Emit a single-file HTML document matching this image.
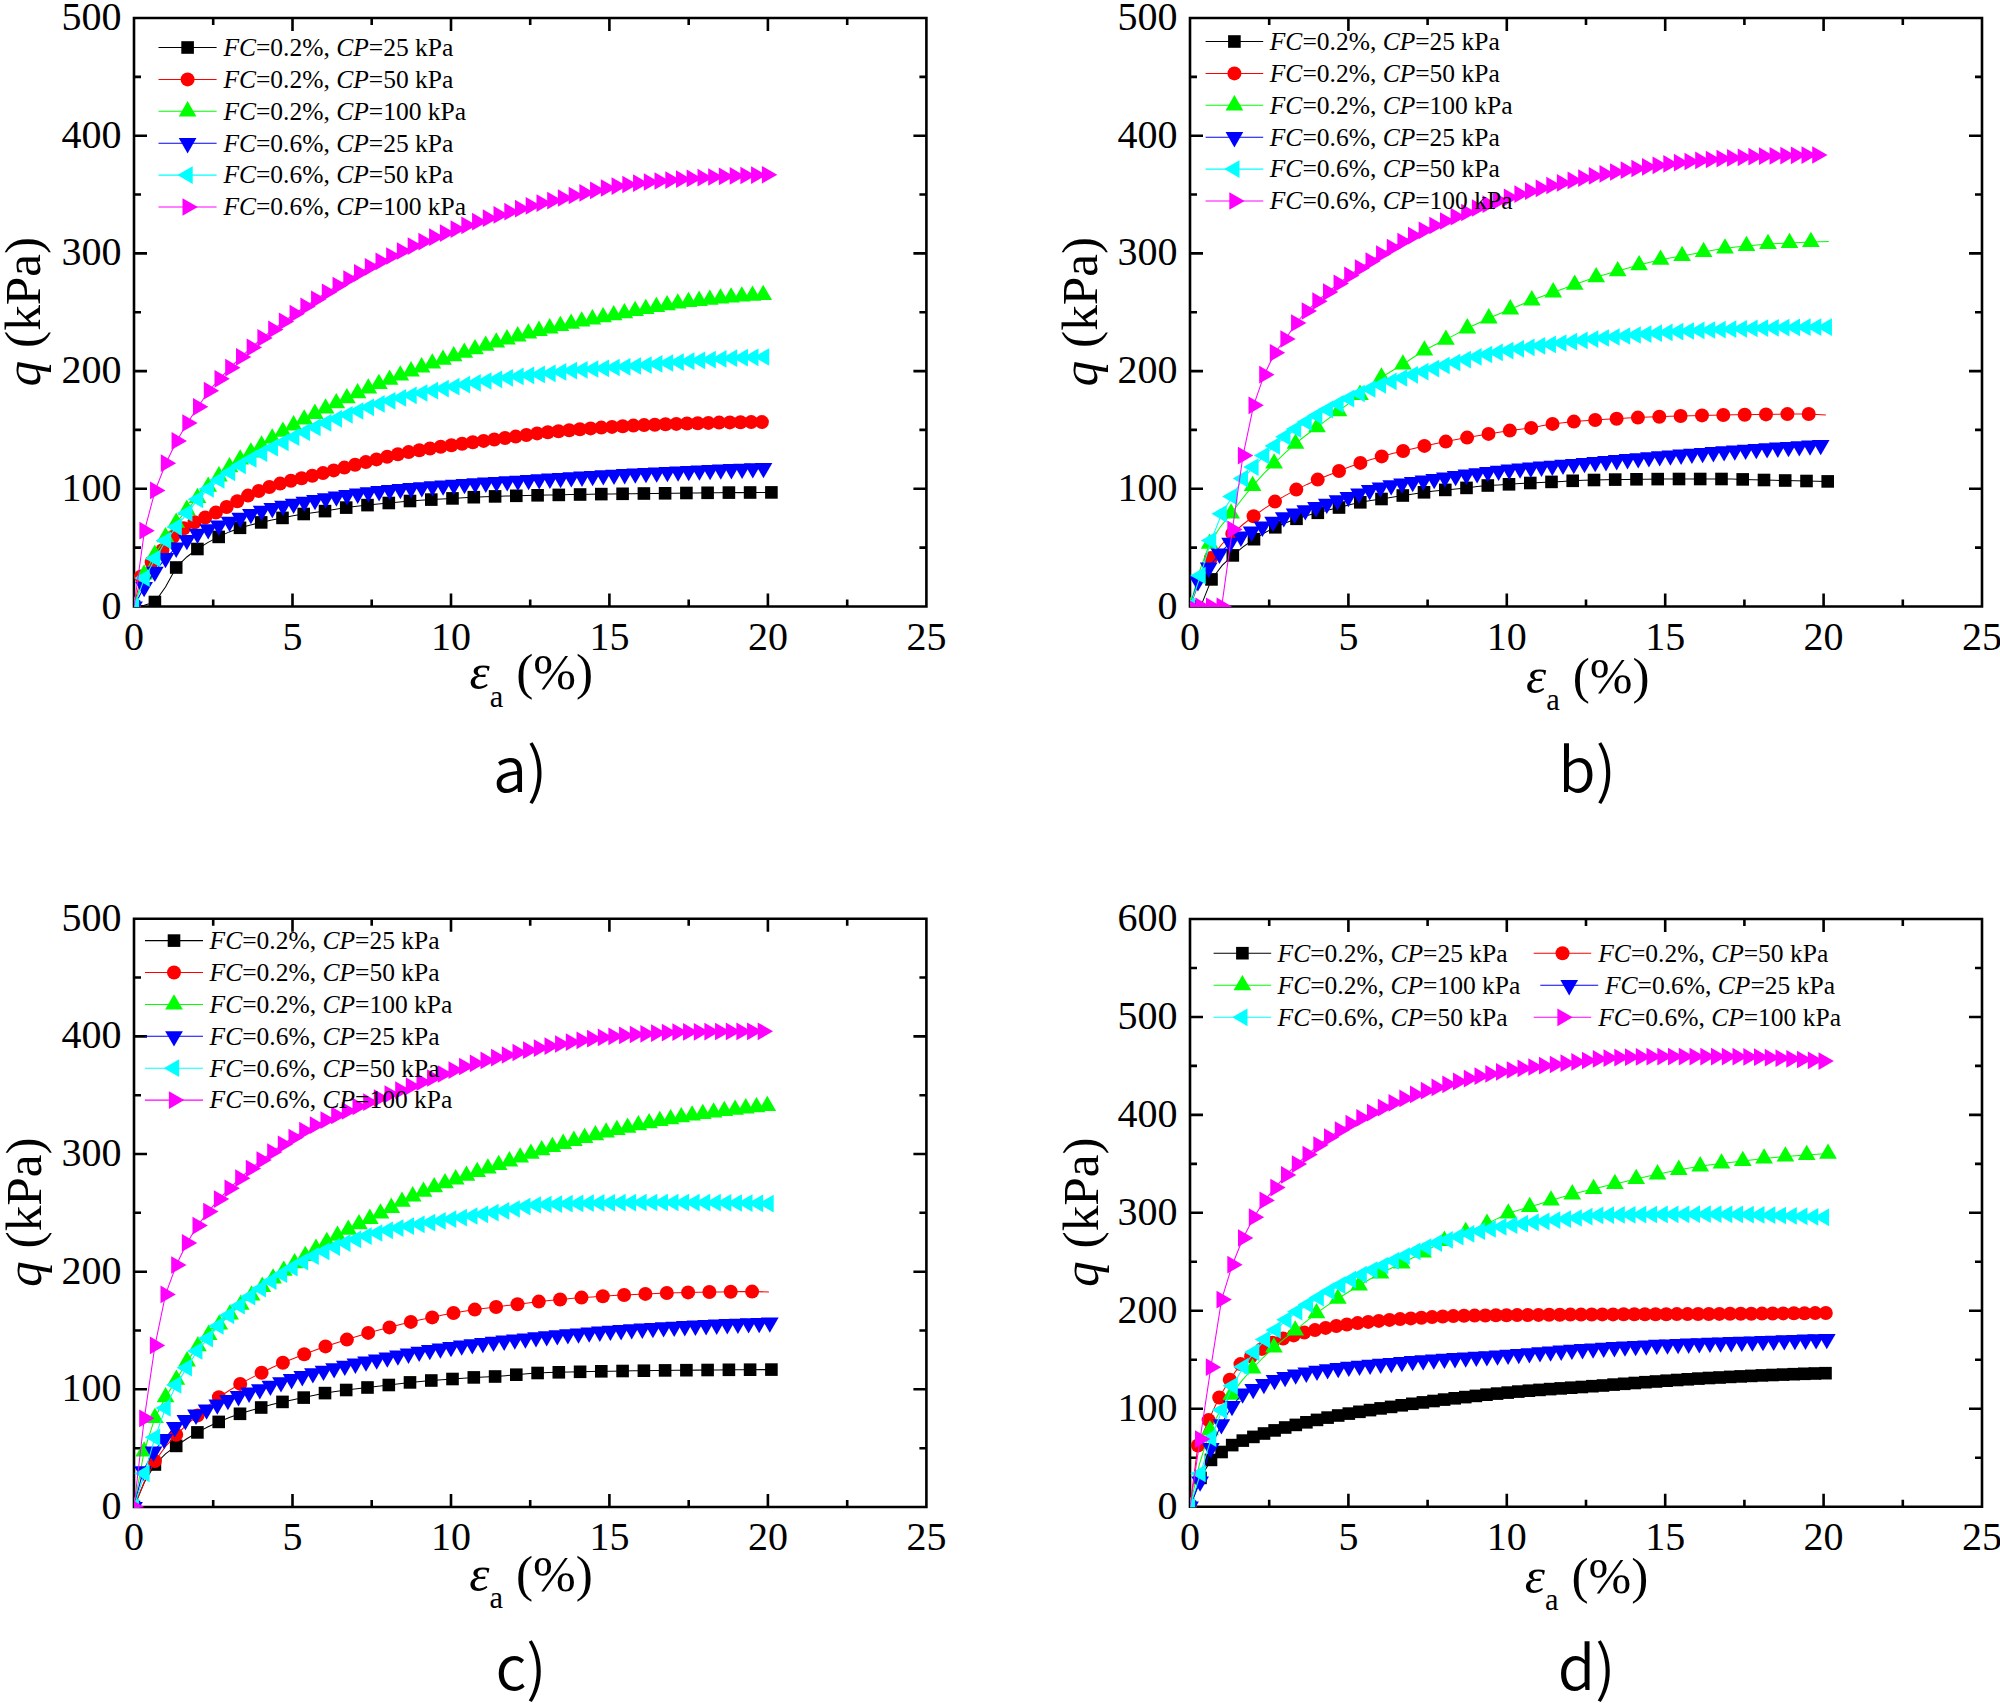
<!DOCTYPE html>
<html><head><meta charset="utf-8"><title>Figure</title>
<style>
html,body{margin:0;padding:0;background:#fff}
svg{display:block}
svg text{font-family:"Liberation Serif",serif;fill:#000}
svg text.cap{font-family:"Noto Sans CJK KR","Liberation Sans",sans-serif;font-weight:350}
</style></head><body>
<svg xmlns="http://www.w3.org/2000/svg" width="2000" height="1703" viewBox="0 0 2000 1703">
<rect width="2000" height="1703" fill="#fff"/>
<defs>
<rect id="sq" x="-6.30" y="-6.30" width="12.6" height="12.6"/>
<circle id="ci" r="7.0"/>
<path id="tu" d="M0 -10.22L-8.85 5.11H8.85Z"/>
<path id="td" d="M0 10.22L-8.85 -5.11H8.85Z"/>
<path id="tl" d="M-10.22 0L5.11 -8.85V8.85Z"/>
<path id="tr" d="M10.22 0L-5.11 -8.85V8.85Z"/>
</defs>
<clipPath id="clipa"><rect x="134.0" y="18.0" width="792.4" height="589.1"/></clipPath>
<path d="M134.0 18.0H926.4V606.5H134.0ZM213.2 606.5v-7M213.2 18.0v7M292.5 606.5v-13M292.5 18.0v13M371.7 606.5v-7M371.7 18.0v7M451 606.5v-13M451 18.0v13M530.2 606.5v-7M530.2 18.0v7M609.4 606.5v-13M609.4 18.0v13M688.7 606.5v-7M688.7 18.0v7M767.9 606.5v-13M767.9 18.0v13M847.2 606.5v-7M847.2 18.0v7M134.0 547.6h7M926.4 547.6h-7M134.0 488.8h13M926.4 488.8h-13M134.0 429.9h7M926.4 429.9h-7M134.0 371.1h13M926.4 371.1h-13M134.0 312.2h7M926.4 312.2h-7M134.0 253.4h13M926.4 253.4h-13M134.0 194.5h7M926.4 194.5h-7M134.0 135.7h13M926.4 135.7h-13M134.0 76.9h7M926.4 76.9h-7" fill="none" stroke="#000" stroke-width="2.6" stroke-linecap="butt" stroke-linejoin="miter"/>
<g clip-path="url(#clipa)">
<path d="M134 606.5L144.3 605.3L154.9 602L165.5 587L176.2 567.5L186.8 557L197.4 549L208.1 542.4L218.7 536.9L229.3 531.9L240 527.8L250.6 524.9L261.2 522.4L271.8 520L282.5 517.9L293.1 515.8L303.7 514L314.4 512.5L325 511.1L335.6 509.3L346.2 507.6L356.9 506.3L367.5 505.1L378.1 504L388.8 503L399.4 502L410 501L420.6 500.3L431.3 499.6L441.9 499L452.5 498.4L463.2 497.8L473.8 497.2L484.4 496.8L495.1 496.4L505.7 496.1L516.3 495.8L526.9 495.6L537.6 495.3L548.2 495.1L558.8 494.9L569.5 494.6L580.1 494.5L590.7 494.3L601.3 494.1L612 494L622.6 493.8L633.2 493.7L643.9 493.5L654.5 493.4L665.1 493.3L675.7 493.2L686.4 493L697 492.9L707.6 492.8L718.3 492.7L728.9 492.6L739.5 492.6L750.1 492.5L760.8 492.4L771.4 492.4" fill="none" stroke="#000" stroke-width="1.05"/>
<g fill="#000"><use href="#sq" x="134" y="606.5"/><use href="#sq" x="154.9" y="602"/><use href="#sq" x="176.2" y="567.5"/><use href="#sq" x="197.4" y="549"/><use href="#sq" x="218.7" y="536.9"/><use href="#sq" x="240" y="527.8"/><use href="#sq" x="261.2" y="522.4"/><use href="#sq" x="282.5" y="517.9"/><use href="#sq" x="303.7" y="514"/><use href="#sq" x="325" y="511.1"/><use href="#sq" x="346.2" y="507.6"/><use href="#sq" x="367.5" y="505.1"/><use href="#sq" x="388.8" y="503"/><use href="#sq" x="410" y="501"/><use href="#sq" x="431.3" y="499.6"/><use href="#sq" x="452.5" y="498.4"/><use href="#sq" x="473.8" y="497.2"/><use href="#sq" x="495.1" y="496.4"/><use href="#sq" x="516.3" y="495.8"/><use href="#sq" x="537.6" y="495.3"/><use href="#sq" x="558.8" y="494.9"/><use href="#sq" x="580.1" y="494.5"/><use href="#sq" x="601.3" y="494.1"/><use href="#sq" x="622.6" y="493.8"/><use href="#sq" x="643.9" y="493.5"/><use href="#sq" x="665.1" y="493.3"/><use href="#sq" x="686.4" y="493"/><use href="#sq" x="707.6" y="492.8"/><use href="#sq" x="728.9" y="492.6"/><use href="#sq" x="750.1" y="492.5"/><use href="#sq" x="771.4" y="492.4"/></g>
<path d="M134 606.5L141 576.5L151.7 562.2L162.4 550.2L173.1 536.8L183.8 528.3L194.5 522.3L205.2 517.5L215.9 512.6L226.6 507L237.3 501.2L248 495.6L258.7 491L269.4 487L280.1 483.6L290.9 480.8L301.6 478.3L312.3 475.7L323 473.1L333.7 470.4L344.4 467.6L355.1 464.8L365.8 462.1L376.5 459.4L387.2 456.8L397.9 454.3L408.6 452.1L419.3 450.2L430 448.5L440.7 446.8L451.4 445.2L462.1 443.7L472.8 442.3L483.6 440.9L494.3 439.5L505 438L515.7 436.6L526.4 435L537.1 433.4L547.8 432.2L558.5 431.2L569.2 430.2L579.9 429.3L590.6 428.4L601.3 427.6L612 426.9L622.7 426.2L633.4 425.6L644.1 425.1L654.8 424.7L665.5 424.3L676.3 423.9L687 423.5L697.7 423.2L708.4 422.9L719.1 422.6L729.8 422.4L740.5 422.2L751.2 422.1L761.9 422.1" fill="none" stroke="#f00" stroke-width="1.05"/>
<g fill="#f00"><use href="#ci" x="134" y="606.5"/><use href="#ci" x="141" y="576.5"/><use href="#ci" x="151.7" y="562.2"/><use href="#ci" x="162.4" y="550.2"/><use href="#ci" x="173.1" y="536.8"/><use href="#ci" x="183.8" y="528.3"/><use href="#ci" x="194.5" y="522.3"/><use href="#ci" x="205.2" y="517.5"/><use href="#ci" x="215.9" y="512.6"/><use href="#ci" x="226.6" y="507"/><use href="#ci" x="237.3" y="501.2"/><use href="#ci" x="248" y="495.6"/><use href="#ci" x="258.7" y="491"/><use href="#ci" x="269.4" y="487"/><use href="#ci" x="280.1" y="483.6"/><use href="#ci" x="290.9" y="480.8"/><use href="#ci" x="301.6" y="478.3"/><use href="#ci" x="312.3" y="475.7"/><use href="#ci" x="323" y="473.1"/><use href="#ci" x="333.7" y="470.4"/><use href="#ci" x="344.4" y="467.6"/><use href="#ci" x="355.1" y="464.8"/><use href="#ci" x="365.8" y="462.1"/><use href="#ci" x="376.5" y="459.4"/><use href="#ci" x="387.2" y="456.8"/><use href="#ci" x="397.9" y="454.3"/><use href="#ci" x="408.6" y="452.1"/><use href="#ci" x="419.3" y="450.2"/><use href="#ci" x="430" y="448.5"/><use href="#ci" x="440.7" y="446.8"/><use href="#ci" x="451.4" y="445.2"/><use href="#ci" x="462.1" y="443.7"/><use href="#ci" x="472.8" y="442.3"/><use href="#ci" x="483.6" y="440.9"/><use href="#ci" x="494.3" y="439.5"/><use href="#ci" x="505" y="438"/><use href="#ci" x="515.7" y="436.6"/><use href="#ci" x="526.4" y="435"/><use href="#ci" x="537.1" y="433.4"/><use href="#ci" x="547.8" y="432.2"/><use href="#ci" x="558.5" y="431.2"/><use href="#ci" x="569.2" y="430.2"/><use href="#ci" x="579.9" y="429.3"/><use href="#ci" x="590.6" y="428.4"/><use href="#ci" x="601.3" y="427.6"/><use href="#ci" x="612" y="426.9"/><use href="#ci" x="622.7" y="426.2"/><use href="#ci" x="633.4" y="425.6"/><use href="#ci" x="644.1" y="425.1"/><use href="#ci" x="654.8" y="424.7"/><use href="#ci" x="665.5" y="424.3"/><use href="#ci" x="676.3" y="423.9"/><use href="#ci" x="687" y="423.5"/><use href="#ci" x="697.7" y="423.2"/><use href="#ci" x="708.4" y="422.9"/><use href="#ci" x="719.1" y="422.6"/><use href="#ci" x="729.8" y="422.4"/><use href="#ci" x="740.5" y="422.2"/><use href="#ci" x="751.2" y="422.1"/><use href="#ci" x="761.9" y="422.1"/></g>
<path d="M134 606.5L144.1 574.5L154.8 554.7L165.5 537.2L176.2 522.7L186.8 509.8L197.5 497.9L208.2 486.7L218.9 476.3L229.5 467.2L240.2 459.4L250.9 452.4L261.5 445.5L272.2 438.5L282.9 431.7L293.6 425.3L304.2 419.5L314.9 413.8L325.6 408.4L336.3 403.1L346.9 398.1L357.6 393.2L368.3 388.5L378.9 384L389.6 379.6L400.3 375.4L411 371.3L421.6 367.3L432.3 363.5L443 359.7L453.7 356.1L464.3 352.6L475 349.1L485.7 345.7L496.3 342.4L507 339.3L517.7 336.3L528.4 333.5L539 330.8L549.7 328.3L560.4 325.9L571.1 323.7L581.7 321.5L592.4 319.3L603.1 317.2L613.7 315.2L624.4 313.1L635.1 311L645.8 308.9L656.4 307L667.1 305.1L677.8 303.5L688.5 302L699.1 300.8L709.8 299.6L720.5 298.4L731.1 297.4L741.8 296.5L752.5 295.7L763.2 295" fill="none" stroke="#0f0" stroke-width="1.05"/>
<g fill="#0f0"><use href="#tu" x="134" y="606.5"/><use href="#tu" x="144.1" y="574.5"/><use href="#tu" x="154.8" y="554.7"/><use href="#tu" x="165.5" y="537.2"/><use href="#tu" x="176.2" y="522.7"/><use href="#tu" x="186.8" y="509.8"/><use href="#tu" x="197.5" y="497.9"/><use href="#tu" x="208.2" y="486.7"/><use href="#tu" x="218.9" y="476.3"/><use href="#tu" x="229.5" y="467.2"/><use href="#tu" x="240.2" y="459.4"/><use href="#tu" x="250.9" y="452.4"/><use href="#tu" x="261.5" y="445.5"/><use href="#tu" x="272.2" y="438.5"/><use href="#tu" x="282.9" y="431.7"/><use href="#tu" x="293.6" y="425.3"/><use href="#tu" x="304.2" y="419.5"/><use href="#tu" x="314.9" y="413.8"/><use href="#tu" x="325.6" y="408.4"/><use href="#tu" x="336.3" y="403.1"/><use href="#tu" x="346.9" y="398.1"/><use href="#tu" x="357.6" y="393.2"/><use href="#tu" x="368.3" y="388.5"/><use href="#tu" x="378.9" y="384"/><use href="#tu" x="389.6" y="379.6"/><use href="#tu" x="400.3" y="375.4"/><use href="#tu" x="411" y="371.3"/><use href="#tu" x="421.6" y="367.3"/><use href="#tu" x="432.3" y="363.5"/><use href="#tu" x="443" y="359.7"/><use href="#tu" x="453.7" y="356.1"/><use href="#tu" x="464.3" y="352.6"/><use href="#tu" x="475" y="349.1"/><use href="#tu" x="485.7" y="345.7"/><use href="#tu" x="496.3" y="342.4"/><use href="#tu" x="507" y="339.3"/><use href="#tu" x="517.7" y="336.3"/><use href="#tu" x="528.4" y="333.5"/><use href="#tu" x="539" y="330.8"/><use href="#tu" x="549.7" y="328.3"/><use href="#tu" x="560.4" y="325.9"/><use href="#tu" x="571.1" y="323.7"/><use href="#tu" x="581.7" y="321.5"/><use href="#tu" x="592.4" y="319.3"/><use href="#tu" x="603.1" y="317.2"/><use href="#tu" x="613.7" y="315.2"/><use href="#tu" x="624.4" y="313.1"/><use href="#tu" x="635.1" y="311"/><use href="#tu" x="645.8" y="308.9"/><use href="#tu" x="656.4" y="307"/><use href="#tu" x="667.1" y="305.1"/><use href="#tu" x="677.8" y="303.5"/><use href="#tu" x="688.5" y="302"/><use href="#tu" x="699.1" y="300.8"/><use href="#tu" x="709.8" y="299.6"/><use href="#tu" x="720.5" y="298.4"/><use href="#tu" x="731.1" y="297.4"/><use href="#tu" x="741.8" y="296.5"/><use href="#tu" x="752.5" y="295.7"/><use href="#tu" x="763.2" y="295"/></g>
<path d="M134 606.5L144.1 587.1L154.8 571.9L165.5 558.1L176.2 547.7L186.9 540L197.5 533.9L208.2 529.4L218.9 525.5L229.6 521.8L240.2 517.8L250.9 514L261.6 510.8L272.3 508.1L283 505.8L293.6 503.8L304.3 501.8L315 500L325.7 498.3L336.4 496.6L347 495.1L357.7 493.7L368.4 492.4L379.1 491.2L389.7 490.1L400.4 489.1L411.1 488.2L421.8 487.3L432.5 486.4L443.1 485.6L453.8 484.8L464.5 484.1L475.2 483.4L485.8 482.7L496.5 482L507.2 481.4L517.9 480.8L528.6 480.1L539.2 479.4L549.9 478.7L560.6 478L571.3 477.3L582 476.7L592.6 476L603.3 475.4L614 474.8L624.7 474.2L635.3 473.6L646 473L656.7 472.5L667.4 472L678.1 471.5L688.7 471L699.4 470.5L710.1 470.1L720.8 469.6L731.4 469.2L742.1 468.8L752.8 468.4L763.5 468" fill="none" stroke="#00f" stroke-width="1.05"/>
<g fill="#00f"><use href="#td" x="134" y="606.5"/><use href="#td" x="144.1" y="587.1"/><use href="#td" x="154.8" y="571.9"/><use href="#td" x="165.5" y="558.1"/><use href="#td" x="176.2" y="547.7"/><use href="#td" x="186.9" y="540"/><use href="#td" x="197.5" y="533.9"/><use href="#td" x="208.2" y="529.4"/><use href="#td" x="218.9" y="525.5"/><use href="#td" x="229.6" y="521.8"/><use href="#td" x="240.2" y="517.8"/><use href="#td" x="250.9" y="514"/><use href="#td" x="261.6" y="510.8"/><use href="#td" x="272.3" y="508.1"/><use href="#td" x="283" y="505.8"/><use href="#td" x="293.6" y="503.8"/><use href="#td" x="304.3" y="501.8"/><use href="#td" x="315" y="500"/><use href="#td" x="325.7" y="498.3"/><use href="#td" x="336.4" y="496.6"/><use href="#td" x="347" y="495.1"/><use href="#td" x="357.7" y="493.7"/><use href="#td" x="368.4" y="492.4"/><use href="#td" x="379.1" y="491.2"/><use href="#td" x="389.7" y="490.1"/><use href="#td" x="400.4" y="489.1"/><use href="#td" x="411.1" y="488.2"/><use href="#td" x="421.8" y="487.3"/><use href="#td" x="432.5" y="486.4"/><use href="#td" x="443.1" y="485.6"/><use href="#td" x="453.8" y="484.8"/><use href="#td" x="464.5" y="484.1"/><use href="#td" x="475.2" y="483.4"/><use href="#td" x="485.8" y="482.7"/><use href="#td" x="496.5" y="482"/><use href="#td" x="507.2" y="481.4"/><use href="#td" x="517.9" y="480.8"/><use href="#td" x="528.6" y="480.1"/><use href="#td" x="539.2" y="479.4"/><use href="#td" x="549.9" y="478.7"/><use href="#td" x="560.6" y="478"/><use href="#td" x="571.3" y="477.3"/><use href="#td" x="582" y="476.7"/><use href="#td" x="592.6" y="476"/><use href="#td" x="603.3" y="475.4"/><use href="#td" x="614" y="474.8"/><use href="#td" x="624.7" y="474.2"/><use href="#td" x="635.3" y="473.6"/><use href="#td" x="646" y="473"/><use href="#td" x="656.7" y="472.5"/><use href="#td" x="667.4" y="472"/><use href="#td" x="678.1" y="471.5"/><use href="#td" x="688.7" y="471"/><use href="#td" x="699.4" y="470.5"/><use href="#td" x="710.1" y="470.1"/><use href="#td" x="720.8" y="469.6"/><use href="#td" x="731.4" y="469.2"/><use href="#td" x="742.1" y="468.8"/><use href="#td" x="752.8" y="468.4"/><use href="#td" x="763.5" y="468"/></g>
<path d="M134 606.5L144.6 578.1L155.3 558.5L166 540.5L176.7 526.9L187.3 513L198 499.3L208.7 488.9L219.4 480L230.1 472.3L240.7 465.3L251.4 459L262.1 453.2L272.8 447.7L283.5 442.4L294.2 437.2L304.8 432.2L315.5 427.4L326.2 422.9L336.9 418.8L347.6 414.8L358.2 411L368.9 407.3L379.6 403.9L390.3 400.8L401 397.9L411.6 395.3L422.3 393L433 390.7L443.7 388.6L454.4 386.7L465 384.7L475.7 382.9L486.4 381L497.1 379.3L507.8 377.8L518.5 376.4L529.1 375.3L539.8 374.4L550.5 373.3L561.2 371.9L571.9 370.6L582.5 369.8L593.2 369L603.9 368.3L614.6 367.5L625.3 366.8L635.9 366L646.6 365.1L657.3 363.9L668 363L678.7 362.1L689.3 361.2L700 360.3L710.7 359.6L721.4 358.9L732.1 358.2L742.8 357.7L753.4 357.3L764.1 357" fill="none" stroke="#0ff" stroke-width="1.05"/>
<g fill="#0ff"><use href="#tl" x="134" y="606.5"/><use href="#tl" x="144.6" y="578.1"/><use href="#tl" x="155.3" y="558.5"/><use href="#tl" x="166" y="540.5"/><use href="#tl" x="176.7" y="526.9"/><use href="#tl" x="187.3" y="513"/><use href="#tl" x="198" y="499.3"/><use href="#tl" x="208.7" y="488.9"/><use href="#tl" x="219.4" y="480"/><use href="#tl" x="230.1" y="472.3"/><use href="#tl" x="240.7" y="465.3"/><use href="#tl" x="251.4" y="459"/><use href="#tl" x="262.1" y="453.2"/><use href="#tl" x="272.8" y="447.7"/><use href="#tl" x="283.5" y="442.4"/><use href="#tl" x="294.2" y="437.2"/><use href="#tl" x="304.8" y="432.2"/><use href="#tl" x="315.5" y="427.4"/><use href="#tl" x="326.2" y="422.9"/><use href="#tl" x="336.9" y="418.8"/><use href="#tl" x="347.6" y="414.8"/><use href="#tl" x="358.2" y="411"/><use href="#tl" x="368.9" y="407.3"/><use href="#tl" x="379.6" y="403.9"/><use href="#tl" x="390.3" y="400.8"/><use href="#tl" x="401" y="397.9"/><use href="#tl" x="411.6" y="395.3"/><use href="#tl" x="422.3" y="393"/><use href="#tl" x="433" y="390.7"/><use href="#tl" x="443.7" y="388.6"/><use href="#tl" x="454.4" y="386.7"/><use href="#tl" x="465" y="384.7"/><use href="#tl" x="475.7" y="382.9"/><use href="#tl" x="486.4" y="381"/><use href="#tl" x="497.1" y="379.3"/><use href="#tl" x="507.8" y="377.8"/><use href="#tl" x="518.5" y="376.4"/><use href="#tl" x="529.1" y="375.3"/><use href="#tl" x="539.8" y="374.4"/><use href="#tl" x="550.5" y="373.3"/><use href="#tl" x="561.2" y="371.9"/><use href="#tl" x="571.9" y="370.6"/><use href="#tl" x="582.5" y="369.8"/><use href="#tl" x="593.2" y="369"/><use href="#tl" x="603.9" y="368.3"/><use href="#tl" x="614.6" y="367.5"/><use href="#tl" x="625.3" y="366.8"/><use href="#tl" x="635.9" y="366"/><use href="#tl" x="646.6" y="365.1"/><use href="#tl" x="657.3" y="363.9"/><use href="#tl" x="668" y="363"/><use href="#tl" x="678.7" y="362.1"/><use href="#tl" x="689.3" y="361.2"/><use href="#tl" x="700" y="360.3"/><use href="#tl" x="710.7" y="359.6"/><use href="#tl" x="721.4" y="358.9"/><use href="#tl" x="732.1" y="358.2"/><use href="#tl" x="742.8" y="357.7"/><use href="#tl" x="753.4" y="357.3"/><use href="#tl" x="764.1" y="357"/></g>
<path d="M134 606.5L144.5 530.7L155.2 490.4L165.9 463.2L176.7 440.9L187.4 423L198.1 406.8L208.9 390.7L219.6 378.8L230.3 367.7L241.1 356.9L251.8 347.4L262.5 337.9L273.3 329.4L284 321.4L294.7 313.7L305.5 306.4L316.2 299.3L326.9 292.3L337.7 285.6L348.4 279L359.1 272.8L369.9 266.8L380.6 261.3L391.3 256L402 251L412.8 246.1L423.5 241.6L434.2 237.2L445 233.1L455.7 229.1L466.4 225.3L477.2 221.7L487.9 218.2L498.6 214.9L509.4 211.7L520.1 208.7L530.8 205.8L541.6 203.1L552.3 200.6L563 198L573.8 195.5L584.5 192.9L595.2 190.3L606 188L616.7 186.1L627.4 184.5L638.2 183.2L648.9 182L659.6 181L670.4 180.1L681.1 179.2L691.8 178.4L702.6 177.7L713.3 177L724 176.4L734.8 175.9L745.5 175.5L756.2 175.1L767 174.8" fill="none" stroke="#f0f" stroke-width="1.05"/>
<g fill="#f0f"><use href="#tr" x="144.5" y="530.7"/><use href="#tr" x="155.2" y="490.4"/><use href="#tr" x="165.9" y="463.2"/><use href="#tr" x="176.7" y="440.9"/><use href="#tr" x="187.4" y="423"/><use href="#tr" x="198.1" y="406.8"/><use href="#tr" x="208.9" y="390.7"/><use href="#tr" x="219.6" y="378.8"/><use href="#tr" x="230.3" y="367.7"/><use href="#tr" x="241.1" y="356.9"/><use href="#tr" x="251.8" y="347.4"/><use href="#tr" x="262.5" y="337.9"/><use href="#tr" x="273.3" y="329.4"/><use href="#tr" x="284" y="321.4"/><use href="#tr" x="294.7" y="313.7"/><use href="#tr" x="305.5" y="306.4"/><use href="#tr" x="316.2" y="299.3"/><use href="#tr" x="326.9" y="292.3"/><use href="#tr" x="337.7" y="285.6"/><use href="#tr" x="348.4" y="279"/><use href="#tr" x="359.1" y="272.8"/><use href="#tr" x="369.9" y="266.8"/><use href="#tr" x="380.6" y="261.3"/><use href="#tr" x="391.3" y="256"/><use href="#tr" x="402" y="251"/><use href="#tr" x="412.8" y="246.1"/><use href="#tr" x="423.5" y="241.6"/><use href="#tr" x="434.2" y="237.2"/><use href="#tr" x="445" y="233.1"/><use href="#tr" x="455.7" y="229.1"/><use href="#tr" x="466.4" y="225.3"/><use href="#tr" x="477.2" y="221.7"/><use href="#tr" x="487.9" y="218.2"/><use href="#tr" x="498.6" y="214.9"/><use href="#tr" x="509.4" y="211.7"/><use href="#tr" x="520.1" y="208.7"/><use href="#tr" x="530.8" y="205.8"/><use href="#tr" x="541.6" y="203.1"/><use href="#tr" x="552.3" y="200.6"/><use href="#tr" x="563" y="198"/><use href="#tr" x="573.8" y="195.5"/><use href="#tr" x="584.5" y="192.9"/><use href="#tr" x="595.2" y="190.3"/><use href="#tr" x="606" y="188"/><use href="#tr" x="616.7" y="186.1"/><use href="#tr" x="627.4" y="184.5"/><use href="#tr" x="638.2" y="183.2"/><use href="#tr" x="648.9" y="182"/><use href="#tr" x="659.6" y="181"/><use href="#tr" x="670.4" y="180.1"/><use href="#tr" x="681.1" y="179.2"/><use href="#tr" x="691.8" y="178.4"/><use href="#tr" x="702.6" y="177.7"/><use href="#tr" x="713.3" y="177"/><use href="#tr" x="724" y="176.4"/><use href="#tr" x="734.8" y="175.9"/><use href="#tr" x="745.5" y="175.5"/><use href="#tr" x="756.2" y="175.1"/><use href="#tr" x="767" y="174.8"/></g>
</g>
<g font-size="40" text-anchor="middle">
<text x="134" y="649.6">0</text>
<text x="292.5" y="649.6">5</text>
<text x="451" y="649.6">10</text>
<text x="609.4" y="649.6">15</text>
<text x="767.9" y="649.6">20</text>
<text x="926.4" y="649.6">25</text>
</g>
<g font-size="40" text-anchor="end">
<text x="121.4" y="618.5">0</text>
<text x="121.4" y="500.8">100</text>
<text x="121.4" y="383.1">200</text>
<text x="121.4" y="265.4">300</text>
<text x="121.4" y="147.7">400</text>
<text x="121.4" y="30">500</text>
</g>
<text x="531.3" y="689.4" font-size="51.3" text-anchor="middle"><tspan font-style="italic">ε</tspan><tspan font-size="30.5" dy="17.2">a</tspan><tspan dy="-17.2"> (%)</tspan></text>
<text transform="translate(39.7 311.6) rotate(-90)" font-size="51.3" text-anchor="middle"><tspan font-style="italic">q</tspan> (kPa)</text>
<g font-size="25.5">
<path d="M158.5 47.5H216.6" stroke="#000" stroke-width="1.05"/><use href="#sq" x="187.6" y="47.5" fill="#000"/>
<text x="223.4" y="55.8"><tspan font-style="italic">FC</tspan>=0.2%, <tspan font-style="italic">CP</tspan>=25 kPa</text>
<path d="M158.5 79.4H216.6" stroke="#f00" stroke-width="1.05"/><use href="#ci" x="187.6" y="79.4" fill="#f00"/>
<text x="223.4" y="87.7"><tspan font-style="italic">FC</tspan>=0.2%, <tspan font-style="italic">CP</tspan>=50 kPa</text>
<path d="M158.5 111.3H216.6" stroke="#0f0" stroke-width="1.05"/><use href="#tu" x="187.6" y="111.3" fill="#0f0"/>
<text x="223.4" y="119.6"><tspan font-style="italic">FC</tspan>=0.2%, <tspan font-style="italic">CP</tspan>=100 kPa</text>
<path d="M158.5 143.2H216.6" stroke="#00f" stroke-width="1.05"/><use href="#td" x="187.6" y="143.2" fill="#00f"/>
<text x="223.4" y="151.5"><tspan font-style="italic">FC</tspan>=0.6%, <tspan font-style="italic">CP</tspan>=25 kPa</text>
<path d="M158.5 175.1H216.6" stroke="#0ff" stroke-width="1.05"/><use href="#tl" x="187.6" y="175.1" fill="#0ff"/>
<text x="223.4" y="183.4"><tspan font-style="italic">FC</tspan>=0.6%, <tspan font-style="italic">CP</tspan>=50 kPa</text>
<path d="M158.5 207H216.6" stroke="#f0f" stroke-width="1.05"/><use href="#tr" x="187.6" y="207" fill="#f0f"/>
<text x="223.4" y="215.3"><tspan font-style="italic">FC</tspan>=0.6%, <tspan font-style="italic">CP</tspan>=100 kPa</text>
</g>
<text x="520.1" y="792.4" font-size="61" text-anchor="middle" class="cap">a)</text>
<clipPath id="clipb"><rect x="1190.0" y="18.0" width="792.0" height="589.1"/></clipPath>
<path d="M1190.0 18.0H1982.0V606.5H1190.0ZM1269.2 606.5v-7M1269.2 18.0v7M1348.4 606.5v-13M1348.4 18.0v13M1427.6 606.5v-7M1427.6 18.0v7M1506.8 606.5v-13M1506.8 18.0v13M1586 606.5v-7M1586 18.0v7M1665.2 606.5v-13M1665.2 18.0v13M1744.4 606.5v-7M1744.4 18.0v7M1823.6 606.5v-13M1823.6 18.0v13M1902.8 606.5v-7M1902.8 18.0v7M1190.0 547.6h7M1982.0 547.6h-7M1190.0 488.8h13M1982.0 488.8h-13M1190.0 429.9h7M1982.0 429.9h-7M1190.0 371.1h13M1982.0 371.1h-13M1190.0 312.2h7M1982.0 312.2h-7M1190.0 253.4h13M1982.0 253.4h-13M1190.0 194.5h7M1982.0 194.5h-7M1190.0 135.7h13M1982.0 135.7h-13M1190.0 76.9h7M1982.0 76.9h-7" fill="none" stroke="#000" stroke-width="2.6" stroke-linecap="butt" stroke-linejoin="miter"/>
<g clip-path="url(#clipb)">
<path d="M1190 606.5L1200.9 606.1L1211.5 579.4L1222.2 565.4L1232.8 555.4L1243.4 546.6L1254 539.2L1264.7 532.7L1275.3 527.3L1285.9 522.7L1296.5 518.8L1307.2 515.6L1317.8 512.8L1328.4 510.1L1339 507.5L1349.7 504.7L1360.3 502.3L1370.9 500.6L1381.5 499L1392.1 497.3L1402.8 495.5L1413.4 493.9L1424 492.3L1434.6 491.1L1445.3 489.9L1455.9 488.9L1466.5 487.9L1477.1 486.6L1487.8 485.5L1498.4 484.9L1509 484.3L1519.6 483.6L1530.3 483L1540.9 482.4L1551.5 481.9L1562.1 481.4L1572.7 480.8L1583.4 480.3L1594 480L1604.6 479.8L1615.2 479.6L1625.9 479.4L1636.5 479.3L1647.1 479.2L1657.7 479.1L1668.4 479L1679 479L1689.6 479L1700.2 479L1710.9 479L1721.5 479L1732.1 479.1L1742.7 479.4L1753.4 479.8L1764 480L1774.6 480.3L1785.2 480.5L1795.8 480.7L1806.5 481L1817.1 481.2L1827.7 481.4" fill="none" stroke="#000" stroke-width="1.05"/>
<g fill="#000"><use href="#sq" x="1190" y="606.5"/><use href="#sq" x="1211.5" y="579.4"/><use href="#sq" x="1232.8" y="555.4"/><use href="#sq" x="1254" y="539.2"/><use href="#sq" x="1275.3" y="527.3"/><use href="#sq" x="1296.5" y="518.8"/><use href="#sq" x="1317.8" y="512.8"/><use href="#sq" x="1339" y="507.5"/><use href="#sq" x="1360.3" y="502.3"/><use href="#sq" x="1381.5" y="499"/><use href="#sq" x="1402.8" y="495.5"/><use href="#sq" x="1424" y="492.3"/><use href="#sq" x="1445.3" y="489.9"/><use href="#sq" x="1466.5" y="487.9"/><use href="#sq" x="1487.8" y="485.5"/><use href="#sq" x="1509" y="484.3"/><use href="#sq" x="1530.3" y="483"/><use href="#sq" x="1551.5" y="481.9"/><use href="#sq" x="1572.7" y="480.8"/><use href="#sq" x="1594" y="480"/><use href="#sq" x="1615.2" y="479.6"/><use href="#sq" x="1636.5" y="479.3"/><use href="#sq" x="1657.7" y="479.1"/><use href="#sq" x="1679" y="479"/><use href="#sq" x="1700.2" y="479"/><use href="#sq" x="1721.5" y="479"/><use href="#sq" x="1742.7" y="479.4"/><use href="#sq" x="1764" y="480"/><use href="#sq" x="1785.2" y="480.5"/><use href="#sq" x="1806.5" y="481"/><use href="#sq" x="1827.7" y="481.4"/></g>
<path d="M1190 606.5L1200.2 579.3L1210.9 558.1L1221.6 544.5L1232.3 533.8L1242.9 524.5L1253.6 516.2L1264.3 508.6L1275 501.6L1285.6 495.4L1296.3 489.6L1307 484.4L1317.7 479.6L1328.3 475.2L1339 471L1349.7 466.8L1360.4 462.9L1371 459.5L1381.7 456.4L1392.4 453.6L1403.1 451L1413.7 448.4L1424.4 445.9L1435.1 443.7L1445.8 441.6L1456.4 439.5L1467.1 437.6L1477.8 435.7L1488.5 433.9L1499.1 432.2L1509.8 430.6L1520.5 429.3L1531.2 427.9L1541.8 425.8L1552.5 423.9L1563.2 422.7L1573.9 421.6L1584.5 420.8L1595.2 420L1605.9 419.3L1616.6 418.7L1627.2 418.1L1637.9 417.6L1648.6 417.1L1659.3 416.7L1669.9 416.3L1680.6 416L1691.3 415.7L1702 415.4L1712.6 415.2L1723.3 415L1734 414.8L1744.7 414.7L1755.3 414.5L1766 414.4L1776.7 414.3L1787.4 414.1L1798 414L1808.7 414L1825.8 415.1" fill="none" stroke="#f00" stroke-width="1.05"/>
<g fill="#f00"><use href="#ci" x="1190" y="606.5"/><use href="#ci" x="1210.9" y="558.1"/><use href="#ci" x="1232.3" y="533.8"/><use href="#ci" x="1253.6" y="516.2"/><use href="#ci" x="1275" y="501.6"/><use href="#ci" x="1296.3" y="489.6"/><use href="#ci" x="1317.7" y="479.6"/><use href="#ci" x="1339" y="471"/><use href="#ci" x="1360.4" y="462.9"/><use href="#ci" x="1381.7" y="456.4"/><use href="#ci" x="1403.1" y="451"/><use href="#ci" x="1424.4" y="445.9"/><use href="#ci" x="1445.8" y="441.6"/><use href="#ci" x="1467.1" y="437.6"/><use href="#ci" x="1488.5" y="433.9"/><use href="#ci" x="1509.8" y="430.6"/><use href="#ci" x="1531.2" y="427.9"/><use href="#ci" x="1552.5" y="423.9"/><use href="#ci" x="1573.9" y="421.6"/><use href="#ci" x="1595.2" y="420"/><use href="#ci" x="1616.6" y="418.7"/><use href="#ci" x="1637.9" y="417.6"/><use href="#ci" x="1659.3" y="416.7"/><use href="#ci" x="1680.6" y="416"/><use href="#ci" x="1702" y="415.4"/><use href="#ci" x="1723.3" y="415"/><use href="#ci" x="1744.7" y="414.7"/><use href="#ci" x="1766" y="414.4"/><use href="#ci" x="1787.4" y="414.1"/><use href="#ci" x="1808.7" y="414"/></g>
<path d="M1190 606.5L1198.9 572.9L1209.6 543.7L1220.4 526.8L1231.1 513.5L1241.9 499.2L1252.6 485.9L1263.3 474.2L1274.1 463.5L1284.8 453.2L1295.5 443.6L1306.3 435L1317 427.1L1327.8 419.1L1338.5 411.1L1349.2 403.1L1360 394.8L1370.7 385.9L1381.4 377.4L1392.2 370.7L1402.9 364.4L1413.6 357.3L1424.4 350.4L1435.1 344.8L1445.9 339.6L1456.6 333.9L1467.3 328.3L1478.1 323.2L1488.8 318.3L1499.5 313.7L1510.3 309.3L1521 304.7L1531.8 300.3L1542.5 296.2L1553.2 292.3L1564 288.4L1574.7 284.6L1585.4 280.8L1596.2 277.1L1606.9 274L1617.7 271.1L1628.4 268L1639.1 265.1L1649.9 262.2L1660.6 259.7L1671.3 257.8L1682.1 256L1692.8 254L1703.6 252L1714.3 250.1L1725 248.4L1735.8 247.1L1746.5 246L1757.2 244.9L1768 244L1778.7 243.5L1789.5 243L1800.2 242.5L1810.9 242L1828.7 241.6" fill="none" stroke="#0f0" stroke-width="1.05"/>
<g fill="#0f0"><use href="#tu" x="1190" y="606.5"/><use href="#tu" x="1209.6" y="543.7"/><use href="#tu" x="1231.1" y="513.5"/><use href="#tu" x="1252.6" y="485.9"/><use href="#tu" x="1274.1" y="463.5"/><use href="#tu" x="1295.5" y="443.6"/><use href="#tu" x="1317" y="427.1"/><use href="#tu" x="1338.5" y="411.1"/><use href="#tu" x="1360" y="394.8"/><use href="#tu" x="1381.4" y="377.4"/><use href="#tu" x="1402.9" y="364.4"/><use href="#tu" x="1424.4" y="350.4"/><use href="#tu" x="1445.9" y="339.6"/><use href="#tu" x="1467.3" y="328.3"/><use href="#tu" x="1488.8" y="318.3"/><use href="#tu" x="1510.3" y="309.3"/><use href="#tu" x="1531.8" y="300.3"/><use href="#tu" x="1553.2" y="292.3"/><use href="#tu" x="1574.7" y="284.6"/><use href="#tu" x="1596.2" y="277.1"/><use href="#tu" x="1617.7" y="271.1"/><use href="#tu" x="1639.1" y="265.1"/><use href="#tu" x="1660.6" y="259.7"/><use href="#tu" x="1682.1" y="256"/><use href="#tu" x="1703.6" y="252"/><use href="#tu" x="1725" y="248.4"/><use href="#tu" x="1746.5" y="246"/><use href="#tu" x="1768" y="244"/><use href="#tu" x="1789.5" y="243"/><use href="#tu" x="1810.9" y="242"/></g>
<path d="M1190 606.5L1197.9 581.3L1208.7 567.7L1219.4 553.7L1230.1 542.9L1240.9 536.7L1251.6 531.7L1262.4 526.7L1273.1 521.8L1283.8 517.4L1294.6 513.7L1305.3 510.4L1316 507.2L1326.8 503.8L1337.5 500.3L1348.3 497L1359 493.5L1369.7 490.2L1380.5 487.5L1391.2 485.4L1402 483.6L1412.7 482L1423.4 480.5L1434.2 479L1444.9 477.5L1455.6 476.1L1466.4 474.7L1477.1 473.3L1487.9 472L1498.6 470.8L1509.3 469.7L1520.1 468.6L1530.8 467.7L1541.5 466.7L1552.3 465.8L1563 464.9L1573.8 464L1584.5 463.1L1595.2 462.1L1606 461.2L1616.7 460.2L1627.5 459.2L1638.2 458.3L1648.9 457.3L1659.7 456.4L1670.4 455.5L1681.1 454.7L1691.9 453.8L1702.6 453L1713.4 452.2L1724.1 451.4L1734.8 450.6L1745.6 449.9L1756.3 449.1L1767.1 448.4L1777.8 447.7L1788.5 447L1799.3 446.3L1810 445.6L1820.7 445" fill="none" stroke="#00f" stroke-width="1.05"/>
<g fill="#00f"><use href="#td" x="1190" y="606.5"/><use href="#td" x="1197.9" y="581.3"/><use href="#td" x="1208.7" y="567.7"/><use href="#td" x="1219.4" y="553.7"/><use href="#td" x="1230.1" y="542.9"/><use href="#td" x="1240.9" y="536.7"/><use href="#td" x="1251.6" y="531.7"/><use href="#td" x="1262.4" y="526.7"/><use href="#td" x="1273.1" y="521.8"/><use href="#td" x="1283.8" y="517.4"/><use href="#td" x="1294.6" y="513.7"/><use href="#td" x="1305.3" y="510.4"/><use href="#td" x="1316" y="507.2"/><use href="#td" x="1326.8" y="503.8"/><use href="#td" x="1337.5" y="500.3"/><use href="#td" x="1348.3" y="497"/><use href="#td" x="1359" y="493.5"/><use href="#td" x="1369.7" y="490.2"/><use href="#td" x="1380.5" y="487.5"/><use href="#td" x="1391.2" y="485.4"/><use href="#td" x="1402" y="483.6"/><use href="#td" x="1412.7" y="482"/><use href="#td" x="1423.4" y="480.5"/><use href="#td" x="1434.2" y="479"/><use href="#td" x="1444.9" y="477.5"/><use href="#td" x="1455.6" y="476.1"/><use href="#td" x="1466.4" y="474.7"/><use href="#td" x="1477.1" y="473.3"/><use href="#td" x="1487.9" y="472"/><use href="#td" x="1498.6" y="470.8"/><use href="#td" x="1509.3" y="469.7"/><use href="#td" x="1520.1" y="468.6"/><use href="#td" x="1530.8" y="467.7"/><use href="#td" x="1541.5" y="466.7"/><use href="#td" x="1552.3" y="465.8"/><use href="#td" x="1563" y="464.9"/><use href="#td" x="1573.8" y="464"/><use href="#td" x="1584.5" y="463.1"/><use href="#td" x="1595.2" y="462.1"/><use href="#td" x="1606" y="461.2"/><use href="#td" x="1616.7" y="460.2"/><use href="#td" x="1627.5" y="459.2"/><use href="#td" x="1638.2" y="458.3"/><use href="#td" x="1648.9" y="457.3"/><use href="#td" x="1659.7" y="456.4"/><use href="#td" x="1670.4" y="455.5"/><use href="#td" x="1681.1" y="454.7"/><use href="#td" x="1691.9" y="453.8"/><use href="#td" x="1702.6" y="453"/><use href="#td" x="1713.4" y="452.2"/><use href="#td" x="1724.1" y="451.4"/><use href="#td" x="1734.8" y="450.6"/><use href="#td" x="1745.6" y="449.9"/><use href="#td" x="1756.3" y="449.1"/><use href="#td" x="1767.1" y="448.4"/><use href="#td" x="1777.8" y="447.7"/><use href="#td" x="1788.5" y="447"/><use href="#td" x="1799.3" y="446.3"/><use href="#td" x="1810" y="445.6"/><use href="#td" x="1820.7" y="445"/></g>
<path d="M1190 606.5L1200.5 575.5L1211.1 540.6L1221.7 513.8L1232.3 496.5L1242.9 478.6L1253.5 467.1L1264.1 455.5L1274.8 445.9L1285.4 436.7L1296 429L1306.6 422.1L1317.2 415.6L1327.8 409.6L1338.5 403.9L1349.1 398.6L1359.7 393.5L1370.3 389L1380.9 385L1391.5 381.4L1402.1 378L1412.8 374.8L1423.4 371.7L1434 368.6L1444.6 365.5L1455.2 362.5L1465.8 359.6L1476.5 356.9L1487.1 354.5L1497.7 352.4L1508.3 350.6L1518.9 348.8L1529.5 347.3L1540.1 345.8L1550.8 344.4L1561.4 343L1572 341.7L1582.6 340.4L1593.2 339.1L1603.8 338L1614.5 337L1625.1 336L1635.7 335L1646.3 334.1L1656.9 333.2L1667.5 332.4L1678.2 331.6L1688.8 331L1699.4 330.4L1710 330L1720.6 329.6L1731.2 329.2L1741.8 328.8L1752.5 328.4L1763.1 328.1L1773.7 327.8L1784.3 327.6L1794.9 327.4L1805.5 327.2L1816.2 327.1L1826.8 327.1" fill="none" stroke="#0ff" stroke-width="1.05"/>
<g fill="#0ff"><use href="#tl" x="1190" y="606.5"/><use href="#tl" x="1200.5" y="575.5"/><use href="#tl" x="1211.1" y="540.6"/><use href="#tl" x="1221.7" y="513.8"/><use href="#tl" x="1232.3" y="496.5"/><use href="#tl" x="1242.9" y="478.6"/><use href="#tl" x="1253.5" y="467.1"/><use href="#tl" x="1264.1" y="455.5"/><use href="#tl" x="1274.8" y="445.9"/><use href="#tl" x="1285.4" y="436.7"/><use href="#tl" x="1296" y="429"/><use href="#tl" x="1306.6" y="422.1"/><use href="#tl" x="1317.2" y="415.6"/><use href="#tl" x="1327.8" y="409.6"/><use href="#tl" x="1338.5" y="403.9"/><use href="#tl" x="1349.1" y="398.6"/><use href="#tl" x="1359.7" y="393.5"/><use href="#tl" x="1370.3" y="389"/><use href="#tl" x="1380.9" y="385"/><use href="#tl" x="1391.5" y="381.4"/><use href="#tl" x="1402.1" y="378"/><use href="#tl" x="1412.8" y="374.8"/><use href="#tl" x="1423.4" y="371.7"/><use href="#tl" x="1434" y="368.6"/><use href="#tl" x="1444.6" y="365.5"/><use href="#tl" x="1455.2" y="362.5"/><use href="#tl" x="1465.8" y="359.6"/><use href="#tl" x="1476.5" y="356.9"/><use href="#tl" x="1487.1" y="354.5"/><use href="#tl" x="1497.7" y="352.4"/><use href="#tl" x="1508.3" y="350.6"/><use href="#tl" x="1518.9" y="348.8"/><use href="#tl" x="1529.5" y="347.3"/><use href="#tl" x="1540.1" y="345.8"/><use href="#tl" x="1550.8" y="344.4"/><use href="#tl" x="1561.4" y="343"/><use href="#tl" x="1572" y="341.7"/><use href="#tl" x="1582.6" y="340.4"/><use href="#tl" x="1593.2" y="339.1"/><use href="#tl" x="1603.8" y="338"/><use href="#tl" x="1614.5" y="337"/><use href="#tl" x="1625.1" y="336"/><use href="#tl" x="1635.7" y="335"/><use href="#tl" x="1646.3" y="334.1"/><use href="#tl" x="1656.9" y="333.2"/><use href="#tl" x="1667.5" y="332.4"/><use href="#tl" x="1678.2" y="331.6"/><use href="#tl" x="1688.8" y="331"/><use href="#tl" x="1699.4" y="330.4"/><use href="#tl" x="1710" y="330"/><use href="#tl" x="1720.6" y="329.6"/><use href="#tl" x="1731.2" y="329.2"/><use href="#tl" x="1741.8" y="328.8"/><use href="#tl" x="1752.5" y="328.4"/><use href="#tl" x="1763.1" y="328.1"/><use href="#tl" x="1773.7" y="327.8"/><use href="#tl" x="1784.3" y="327.6"/><use href="#tl" x="1794.9" y="327.4"/><use href="#tl" x="1805.5" y="327.2"/><use href="#tl" x="1816.2" y="327.1"/><use href="#tl" x="1826.8" y="327.1"/></g>
<path d="M1190 606.5L1200.5 606.4L1211.1 606.4L1221.7 606.4L1232.4 529.4L1243 455.6L1253.6 405.3L1264.3 374.7L1274.9 352.8L1285.5 339L1296.2 323L1306.8 311L1317.4 301.2L1328.1 292L1338.7 283.4L1349.3 275.4L1360 268L1370.6 261.1L1381.2 254L1391.9 247.6L1402.5 241.5L1413.1 235.7L1423.8 230.3L1434.4 225.5L1445.1 221L1455.7 216.7L1466.3 212.5L1477 208L1487.6 204.2L1498.2 200.6L1508.9 197.3L1519.5 194.2L1530.1 191.2L1540.8 188.3L1551.4 185.5L1562 182.9L1572.7 180.4L1583.3 178.1L1593.9 175.9L1604.6 173.9L1615.2 172L1625.8 170.2L1636.5 168.5L1647.1 166.8L1657.7 165.3L1668.4 163.9L1679 162.7L1689.6 161.5L1700.3 160.4L1710.9 159.5L1721.6 158.6L1732.2 157.9L1742.8 157.3L1753.5 156.7L1764.1 156.2L1774.7 155.9L1785.4 155.6L1796 155.3L1806.6 155.1L1817.3 155" fill="none" stroke="#f0f" stroke-width="1.05"/>
<g fill="#f0f"><use href="#tr" x="1190" y="606.5"/><use href="#tr" x="1200.5" y="606.4"/><use href="#tr" x="1211.1" y="606.4"/><use href="#tr" x="1221.7" y="606.4"/><use href="#tr" x="1232.4" y="529.4"/><use href="#tr" x="1243" y="455.6"/><use href="#tr" x="1253.6" y="405.3"/><use href="#tr" x="1264.3" y="374.7"/><use href="#tr" x="1274.9" y="352.8"/><use href="#tr" x="1285.5" y="339"/><use href="#tr" x="1296.2" y="323"/><use href="#tr" x="1306.8" y="311"/><use href="#tr" x="1317.4" y="301.2"/><use href="#tr" x="1328.1" y="292"/><use href="#tr" x="1338.7" y="283.4"/><use href="#tr" x="1349.3" y="275.4"/><use href="#tr" x="1360" y="268"/><use href="#tr" x="1370.6" y="261.1"/><use href="#tr" x="1381.2" y="254"/><use href="#tr" x="1391.9" y="247.6"/><use href="#tr" x="1402.5" y="241.5"/><use href="#tr" x="1413.1" y="235.7"/><use href="#tr" x="1423.8" y="230.3"/><use href="#tr" x="1434.4" y="225.5"/><use href="#tr" x="1445.1" y="221"/><use href="#tr" x="1455.7" y="216.7"/><use href="#tr" x="1466.3" y="212.5"/><use href="#tr" x="1477" y="208"/><use href="#tr" x="1487.6" y="204.2"/><use href="#tr" x="1498.2" y="200.6"/><use href="#tr" x="1508.9" y="197.3"/><use href="#tr" x="1519.5" y="194.2"/><use href="#tr" x="1530.1" y="191.2"/><use href="#tr" x="1540.8" y="188.3"/><use href="#tr" x="1551.4" y="185.5"/><use href="#tr" x="1562" y="182.9"/><use href="#tr" x="1572.7" y="180.4"/><use href="#tr" x="1583.3" y="178.1"/><use href="#tr" x="1593.9" y="175.9"/><use href="#tr" x="1604.6" y="173.9"/><use href="#tr" x="1615.2" y="172"/><use href="#tr" x="1625.8" y="170.2"/><use href="#tr" x="1636.5" y="168.5"/><use href="#tr" x="1647.1" y="166.8"/><use href="#tr" x="1657.7" y="165.3"/><use href="#tr" x="1668.4" y="163.9"/><use href="#tr" x="1679" y="162.7"/><use href="#tr" x="1689.6" y="161.5"/><use href="#tr" x="1700.3" y="160.4"/><use href="#tr" x="1710.9" y="159.5"/><use href="#tr" x="1721.6" y="158.6"/><use href="#tr" x="1732.2" y="157.9"/><use href="#tr" x="1742.8" y="157.3"/><use href="#tr" x="1753.5" y="156.7"/><use href="#tr" x="1764.1" y="156.2"/><use href="#tr" x="1774.7" y="155.9"/><use href="#tr" x="1785.4" y="155.6"/><use href="#tr" x="1796" y="155.3"/><use href="#tr" x="1806.6" y="155.1"/><use href="#tr" x="1817.3" y="155"/></g>
</g>
<g font-size="40" text-anchor="middle">
<text x="1190" y="649.6">0</text>
<text x="1348.4" y="649.6">5</text>
<text x="1506.8" y="649.6">10</text>
<text x="1665.2" y="649.6">15</text>
<text x="1823.6" y="649.6">20</text>
<text x="1982" y="649.6">25</text>
</g>
<g font-size="40" text-anchor="end">
<text x="1177.4" y="618.5">0</text>
<text x="1177.4" y="500.8">100</text>
<text x="1177.4" y="383.1">200</text>
<text x="1177.4" y="265.4">300</text>
<text x="1177.4" y="147.7">400</text>
<text x="1177.4" y="30">500</text>
</g>
<text x="1587.8" y="692.5" font-size="51.3" text-anchor="middle"><tspan font-style="italic">ε</tspan><tspan font-size="30.5" dy="17.2">a</tspan><tspan dy="-17.2"> (%)</tspan></text>
<text transform="translate(1097 311.6) rotate(-90)" font-size="51.3" text-anchor="middle"><tspan font-style="italic">q</tspan> (kPa)</text>
<g font-size="25.5">
<path d="M1205.6 41.5H1263.2" stroke="#000" stroke-width="1.05"/><use href="#sq" x="1234.4" y="41.5" fill="#000"/>
<text x="1269.8" y="49.8"><tspan font-style="italic">FC</tspan>=0.2%, <tspan font-style="italic">CP</tspan>=25 kPa</text>
<path d="M1205.6 73.4H1263.2" stroke="#f00" stroke-width="1.05"/><use href="#ci" x="1234.4" y="73.4" fill="#f00"/>
<text x="1269.8" y="81.7"><tspan font-style="italic">FC</tspan>=0.2%, <tspan font-style="italic">CP</tspan>=50 kPa</text>
<path d="M1205.6 105.3H1263.2" stroke="#0f0" stroke-width="1.05"/><use href="#tu" x="1234.4" y="105.3" fill="#0f0"/>
<text x="1269.8" y="113.6"><tspan font-style="italic">FC</tspan>=0.2%, <tspan font-style="italic">CP</tspan>=100 kPa</text>
<path d="M1205.6 137.2H1263.2" stroke="#00f" stroke-width="1.05"/><use href="#td" x="1234.4" y="137.2" fill="#00f"/>
<text x="1269.8" y="145.5"><tspan font-style="italic">FC</tspan>=0.6%, <tspan font-style="italic">CP</tspan>=25 kPa</text>
<path d="M1205.6 169.1H1263.2" stroke="#0ff" stroke-width="1.05"/><use href="#tl" x="1234.4" y="169.1" fill="#0ff"/>
<text x="1269.8" y="177.4"><tspan font-style="italic">FC</tspan>=0.6%, <tspan font-style="italic">CP</tspan>=50 kPa</text>
<path d="M1205.6 201H1263.2" stroke="#f0f" stroke-width="1.05"/><use href="#tr" x="1234.4" y="201" fill="#f0f"/>
<text x="1269.8" y="209.3"><tspan font-style="italic">FC</tspan>=0.6%, <tspan font-style="italic">CP</tspan>=100 kPa</text>
</g>
<text x="1587" y="792.4" font-size="61" text-anchor="middle" class="cap">b)</text>
<clipPath id="clipc"><rect x="134.0" y="918.7" width="792.4" height="588.9"/></clipPath>
<path d="M134.0 918.7H926.4V1507.0H134.0ZM213.2 1507.0v-7M213.2 918.7v7M292.5 1507.0v-13M292.5 918.7v13M371.7 1507.0v-7M371.7 918.7v7M451 1507.0v-13M451 918.7v13M530.2 1507.0v-7M530.2 918.7v7M609.4 1507.0v-13M609.4 918.7v13M688.7 1507.0v-7M688.7 918.7v7M767.9 1507.0v-13M767.9 918.7v13M847.2 1507.0v-7M847.2 918.7v7M134.0 1448.2h7M926.4 1448.2h-7M134.0 1389.3h13M926.4 1389.3h-13M134.0 1330.5h7M926.4 1330.5h-7M134.0 1271.7h13M926.4 1271.7h-13M134.0 1212.8h7M926.4 1212.8h-7M134.0 1154h13M926.4 1154h-13M134.0 1095.2h7M926.4 1095.2h-7M134.0 1036.4h13M926.4 1036.4h-13M134.0 977.5h7M926.4 977.5h-7" fill="none" stroke="#000" stroke-width="2.6" stroke-linecap="butt" stroke-linejoin="miter"/>
<g clip-path="url(#clipc)">
<path d="M134 1507L144.3 1482.5L154.9 1464.5L165.5 1453.9L176.2 1445.9L186.8 1438.7L197.4 1432.4L208.1 1426.8L218.7 1421.9L229.3 1417.6L240 1413.8L250.6 1410.5L261.2 1407.5L271.8 1404.6L282.5 1401.9L293.1 1399.7L303.7 1397.6L314.4 1395.2L325 1393.1L335.6 1391.4L346.2 1390L356.9 1388.7L367.5 1387.5L378.1 1386.2L388.8 1385L399.4 1383.7L410 1382.4L420.6 1381.4L431.3 1380.5L441.9 1379.7L452.5 1379L463.2 1378.2L473.8 1377.4L484.4 1376.9L495.1 1376.5L505.7 1375.7L516.3 1374.7L526.9 1373.7L537.6 1373L548.2 1372.6L558.8 1372.3L569.5 1372L580.1 1371.8L590.7 1371.5L601.3 1371.3L612 1371.2L622.6 1371L633.2 1370.8L643.9 1370.7L654.5 1370.5L665.1 1370.4L675.7 1370.3L686.4 1370.2L697 1370.1L707.6 1370L718.3 1369.9L728.9 1369.8L739.5 1369.8L750.1 1369.7L760.8 1369.6L771.4 1369.6" fill="none" stroke="#000" stroke-width="1.05"/>
<g fill="#000"><use href="#sq" x="134" y="1507"/><use href="#sq" x="154.9" y="1464.5"/><use href="#sq" x="176.2" y="1445.9"/><use href="#sq" x="197.4" y="1432.4"/><use href="#sq" x="218.7" y="1421.9"/><use href="#sq" x="240" y="1413.8"/><use href="#sq" x="261.2" y="1407.5"/><use href="#sq" x="282.5" y="1401.9"/><use href="#sq" x="303.7" y="1397.6"/><use href="#sq" x="325" y="1393.1"/><use href="#sq" x="346.2" y="1390"/><use href="#sq" x="367.5" y="1387.5"/><use href="#sq" x="388.8" y="1385"/><use href="#sq" x="410" y="1382.4"/><use href="#sq" x="431.3" y="1380.5"/><use href="#sq" x="452.5" y="1379"/><use href="#sq" x="473.8" y="1377.4"/><use href="#sq" x="495.1" y="1376.5"/><use href="#sq" x="516.3" y="1374.7"/><use href="#sq" x="537.6" y="1373"/><use href="#sq" x="558.8" y="1372.3"/><use href="#sq" x="580.1" y="1371.8"/><use href="#sq" x="601.3" y="1371.3"/><use href="#sq" x="622.6" y="1371"/><use href="#sq" x="643.9" y="1370.7"/><use href="#sq" x="665.1" y="1370.4"/><use href="#sq" x="686.4" y="1370.2"/><use href="#sq" x="707.6" y="1370"/><use href="#sq" x="728.9" y="1369.8"/><use href="#sq" x="750.1" y="1369.7"/><use href="#sq" x="771.4" y="1369.6"/></g>
<path d="M134 1507L144.3 1481.7L154.9 1461.1L165.6 1446.5L176.2 1434.8L186.9 1424.6L197.6 1415.4L208.2 1405.9L218.9 1397.2L229.6 1390.2L240.2 1383.9L250.9 1378.1L261.6 1372.7L272.2 1367.6L282.9 1362.8L293.5 1358.4L304.2 1354.3L314.9 1350.3L325.5 1346.4L336.2 1343L346.9 1339.6L357.5 1336.2L368.2 1332.9L378.9 1330.1L389.5 1327.4L400.2 1324.6L410.8 1321.9L421.5 1319.6L432.2 1317.4L442.8 1315.1L453.5 1313L464.2 1311.2L474.8 1309.6L485.5 1308.2L496.1 1307L506.8 1305.6L517.5 1304.2L528.1 1302.9L538.8 1301.6L549.5 1300.5L560.1 1299.5L570.8 1298.5L581.5 1297.6L592.1 1296.9L602.8 1296.2L613.4 1295.6L624.1 1295L634.8 1294.4L645.4 1293.9L656.1 1293.4L666.8 1293L677.4 1292.7L688.1 1292.4L698.8 1292.2L709.4 1292L720.1 1291.9L730.7 1291.7L741.4 1291.6L752.1 1291.6L768.9 1292" fill="none" stroke="#f00" stroke-width="1.05"/>
<g fill="#f00"><use href="#ci" x="134" y="1507"/><use href="#ci" x="154.9" y="1461.1"/><use href="#ci" x="176.2" y="1434.8"/><use href="#ci" x="197.6" y="1415.4"/><use href="#ci" x="218.9" y="1397.2"/><use href="#ci" x="240.2" y="1383.9"/><use href="#ci" x="261.6" y="1372.7"/><use href="#ci" x="282.9" y="1362.8"/><use href="#ci" x="304.2" y="1354.3"/><use href="#ci" x="325.5" y="1346.4"/><use href="#ci" x="346.9" y="1339.6"/><use href="#ci" x="368.2" y="1332.9"/><use href="#ci" x="389.5" y="1327.4"/><use href="#ci" x="410.8" y="1321.9"/><use href="#ci" x="432.2" y="1317.4"/><use href="#ci" x="453.5" y="1313"/><use href="#ci" x="474.8" y="1309.6"/><use href="#ci" x="496.1" y="1307"/><use href="#ci" x="517.5" y="1304.2"/><use href="#ci" x="538.8" y="1301.6"/><use href="#ci" x="560.1" y="1299.5"/><use href="#ci" x="581.5" y="1297.6"/><use href="#ci" x="602.8" y="1296.2"/><use href="#ci" x="624.1" y="1295"/><use href="#ci" x="645.4" y="1293.9"/><use href="#ci" x="666.8" y="1293"/><use href="#ci" x="688.1" y="1292.4"/><use href="#ci" x="709.4" y="1292"/><use href="#ci" x="730.7" y="1291.7"/><use href="#ci" x="752.1" y="1291.6"/></g>
<path d="M134 1507L144.1 1451.4L154.9 1417.9L165.6 1397.1L176.4 1379.7L187.1 1361.3L197.9 1346.2L208.6 1334.8L219.3 1324.4L230.1 1314.3L240.8 1304.7L251.6 1295.5L262.3 1286.8L273.1 1278.4L283.8 1270.6L294.6 1263.2L305.3 1256L316 1248.8L326.8 1242L337.5 1235.6L348.3 1229.7L359 1224.2L369.8 1218.8L380.5 1213.4L391.3 1207.8L402 1201.6L412.7 1196.3L423.5 1191.6L434.2 1187.2L445 1183.1L455.7 1179.3L466.5 1175.6L477.2 1172L487.9 1168.5L498.7 1164.9L509.4 1161.3L520.2 1157.5L530.9 1153.7L541.7 1150.1L552.4 1146.9L563.2 1143.8L573.9 1140.8L584.6 1137.9L595.4 1135.2L606.1 1132.5L616.9 1130L627.6 1127.6L638.4 1125.2L649.1 1123.1L659.8 1121L670.6 1119.1L681.3 1117.2L692.1 1115.5L702.8 1113.9L713.6 1112.4L724.3 1111L735.1 1109.6L745.8 1108.3L756.5 1107.1L767.3 1106" fill="none" stroke="#0f0" stroke-width="1.05"/>
<g fill="#0f0"><use href="#tu" x="134" y="1507"/><use href="#tu" x="144.1" y="1451.4"/><use href="#tu" x="154.9" y="1417.9"/><use href="#tu" x="165.6" y="1397.1"/><use href="#tu" x="176.4" y="1379.7"/><use href="#tu" x="187.1" y="1361.3"/><use href="#tu" x="197.9" y="1346.2"/><use href="#tu" x="208.6" y="1334.8"/><use href="#tu" x="219.3" y="1324.4"/><use href="#tu" x="230.1" y="1314.3"/><use href="#tu" x="240.8" y="1304.7"/><use href="#tu" x="251.6" y="1295.5"/><use href="#tu" x="262.3" y="1286.8"/><use href="#tu" x="273.1" y="1278.4"/><use href="#tu" x="283.8" y="1270.6"/><use href="#tu" x="294.6" y="1263.2"/><use href="#tu" x="305.3" y="1256"/><use href="#tu" x="316" y="1248.8"/><use href="#tu" x="326.8" y="1242"/><use href="#tu" x="337.5" y="1235.6"/><use href="#tu" x="348.3" y="1229.7"/><use href="#tu" x="359" y="1224.2"/><use href="#tu" x="369.8" y="1218.8"/><use href="#tu" x="380.5" y="1213.4"/><use href="#tu" x="391.3" y="1207.8"/><use href="#tu" x="402" y="1201.6"/><use href="#tu" x="412.7" y="1196.3"/><use href="#tu" x="423.5" y="1191.6"/><use href="#tu" x="434.2" y="1187.2"/><use href="#tu" x="445" y="1183.1"/><use href="#tu" x="455.7" y="1179.3"/><use href="#tu" x="466.5" y="1175.6"/><use href="#tu" x="477.2" y="1172"/><use href="#tu" x="487.9" y="1168.5"/><use href="#tu" x="498.7" y="1164.9"/><use href="#tu" x="509.4" y="1161.3"/><use href="#tu" x="520.2" y="1157.5"/><use href="#tu" x="530.9" y="1153.7"/><use href="#tu" x="541.7" y="1150.1"/><use href="#tu" x="552.4" y="1146.9"/><use href="#tu" x="563.2" y="1143.8"/><use href="#tu" x="573.9" y="1140.8"/><use href="#tu" x="584.6" y="1137.9"/><use href="#tu" x="595.4" y="1135.2"/><use href="#tu" x="606.1" y="1132.5"/><use href="#tu" x="616.9" y="1130"/><use href="#tu" x="627.6" y="1127.6"/><use href="#tu" x="638.4" y="1125.2"/><use href="#tu" x="649.1" y="1123.1"/><use href="#tu" x="659.8" y="1121"/><use href="#tu" x="670.6" y="1119.1"/><use href="#tu" x="681.3" y="1117.2"/><use href="#tu" x="692.1" y="1115.5"/><use href="#tu" x="702.8" y="1113.9"/><use href="#tu" x="713.6" y="1112.4"/><use href="#tu" x="724.3" y="1111"/><use href="#tu" x="735.1" y="1109.6"/><use href="#tu" x="745.8" y="1108.3"/><use href="#tu" x="756.5" y="1107.1"/><use href="#tu" x="767.3" y="1106"/></g>
<path d="M134 1507L142.9 1471.3L153.5 1451.7L164.1 1439L174.8 1427.2L185.4 1420L196 1414.7L206.6 1409.6L217.3 1404.6L227.9 1400L238.5 1396.2L249.1 1392.7L259.8 1389.3L270.4 1385.9L281 1382.4L291.6 1379.2L302.3 1376.2L312.9 1373.4L323.5 1370.8L334.1 1368.3L344.8 1365.9L355.4 1363.7L366 1361.5L376.7 1359.5L387.3 1357.5L397.9 1355.5L408.5 1353.7L419.2 1351.8L429.8 1350.1L440.4 1348.5L451 1347L461.7 1345.6L472.3 1344.3L482.9 1343L493.5 1341.8L504.2 1340.7L514.8 1339.6L525.4 1338.5L536 1337.4L546.7 1336.4L557.3 1335.4L567.9 1334.4L578.5 1333.5L589.2 1332.6L599.8 1331.7L610.4 1330.9L621.1 1330.2L631.7 1329.4L642.3 1328.7L652.9 1328L663.6 1327.4L674.2 1326.8L684.8 1326.2L695.4 1325.7L706.1 1325.2L716.7 1324.7L727.3 1324.2L737.9 1323.8L748.6 1323.3L759.2 1323L769.8 1322.6" fill="none" stroke="#00f" stroke-width="1.05"/>
<g fill="#00f"><use href="#td" x="134" y="1507"/><use href="#td" x="142.9" y="1471.3"/><use href="#td" x="153.5" y="1451.7"/><use href="#td" x="164.1" y="1439"/><use href="#td" x="174.8" y="1427.2"/><use href="#td" x="185.4" y="1420"/><use href="#td" x="196" y="1414.7"/><use href="#td" x="206.6" y="1409.6"/><use href="#td" x="217.3" y="1404.6"/><use href="#td" x="227.9" y="1400"/><use href="#td" x="238.5" y="1396.2"/><use href="#td" x="249.1" y="1392.7"/><use href="#td" x="259.8" y="1389.3"/><use href="#td" x="270.4" y="1385.9"/><use href="#td" x="281" y="1382.4"/><use href="#td" x="291.6" y="1379.2"/><use href="#td" x="302.3" y="1376.2"/><use href="#td" x="312.9" y="1373.4"/><use href="#td" x="323.5" y="1370.8"/><use href="#td" x="334.1" y="1368.3"/><use href="#td" x="344.8" y="1365.9"/><use href="#td" x="355.4" y="1363.7"/><use href="#td" x="366" y="1361.5"/><use href="#td" x="376.7" y="1359.5"/><use href="#td" x="387.3" y="1357.5"/><use href="#td" x="397.9" y="1355.5"/><use href="#td" x="408.5" y="1353.7"/><use href="#td" x="419.2" y="1351.8"/><use href="#td" x="429.8" y="1350.1"/><use href="#td" x="440.4" y="1348.5"/><use href="#td" x="451" y="1347"/><use href="#td" x="461.7" y="1345.6"/><use href="#td" x="472.3" y="1344.3"/><use href="#td" x="482.9" y="1343"/><use href="#td" x="493.5" y="1341.8"/><use href="#td" x="504.2" y="1340.7"/><use href="#td" x="514.8" y="1339.6"/><use href="#td" x="525.4" y="1338.5"/><use href="#td" x="536" y="1337.4"/><use href="#td" x="546.7" y="1336.4"/><use href="#td" x="557.3" y="1335.4"/><use href="#td" x="567.9" y="1334.4"/><use href="#td" x="578.5" y="1333.5"/><use href="#td" x="589.2" y="1332.6"/><use href="#td" x="599.8" y="1331.7"/><use href="#td" x="610.4" y="1330.9"/><use href="#td" x="621.1" y="1330.2"/><use href="#td" x="631.7" y="1329.4"/><use href="#td" x="642.3" y="1328.7"/><use href="#td" x="652.9" y="1328"/><use href="#td" x="663.6" y="1327.4"/><use href="#td" x="674.2" y="1326.8"/><use href="#td" x="684.8" y="1326.2"/><use href="#td" x="695.4" y="1325.7"/><use href="#td" x="706.1" y="1325.2"/><use href="#td" x="716.7" y="1324.7"/><use href="#td" x="727.3" y="1324.2"/><use href="#td" x="737.9" y="1323.8"/><use href="#td" x="748.6" y="1323.3"/><use href="#td" x="759.2" y="1323"/><use href="#td" x="769.8" y="1322.6"/></g>
<path d="M134 1507L144.5 1473.5L155 1437.3L165.6 1408L176.2 1384.9L186.8 1367.7L197.3 1351L207.9 1338.6L218.5 1325.9L229.1 1315.3L239.7 1305.7L250.2 1296.7L260.8 1288.6L271.4 1281.1L282 1274.2L292.5 1267.7L303.1 1261.7L313.7 1256.2L324.3 1251.4L334.9 1247.1L345.4 1243.1L356 1239.4L366.6 1236.1L377.2 1233L387.8 1230.3L398.3 1228.1L408.9 1226.2L419.5 1224.3L430.1 1222.6L440.6 1220.9L451.2 1219.2L461.8 1217.6L472.4 1216L483 1214.3L493.5 1212.6L504.1 1210.9L514.7 1209L525.3 1206.6L535.8 1205L546.4 1204.5L557 1204.1L567.6 1203.7L578.2 1203.4L588.7 1203.2L599.3 1202.9L609.9 1202.8L620.5 1202.6L631 1202.6L641.6 1202.5L652.2 1202.5L662.8 1202.5L673.4 1202.5L683.9 1202.5L694.5 1202.6L705.1 1202.6L715.7 1202.7L726.2 1202.8L736.8 1203L747.4 1203.1L758 1203.3L768.6 1203.6" fill="none" stroke="#0ff" stroke-width="1.05"/>
<g fill="#0ff"><use href="#tl" x="134" y="1507"/><use href="#tl" x="144.5" y="1473.5"/><use href="#tl" x="155" y="1437.3"/><use href="#tl" x="165.6" y="1408"/><use href="#tl" x="176.2" y="1384.9"/><use href="#tl" x="186.8" y="1367.7"/><use href="#tl" x="197.3" y="1351"/><use href="#tl" x="207.9" y="1338.6"/><use href="#tl" x="218.5" y="1325.9"/><use href="#tl" x="229.1" y="1315.3"/><use href="#tl" x="239.7" y="1305.7"/><use href="#tl" x="250.2" y="1296.7"/><use href="#tl" x="260.8" y="1288.6"/><use href="#tl" x="271.4" y="1281.1"/><use href="#tl" x="282" y="1274.2"/><use href="#tl" x="292.5" y="1267.7"/><use href="#tl" x="303.1" y="1261.7"/><use href="#tl" x="313.7" y="1256.2"/><use href="#tl" x="324.3" y="1251.4"/><use href="#tl" x="334.9" y="1247.1"/><use href="#tl" x="345.4" y="1243.1"/><use href="#tl" x="356" y="1239.4"/><use href="#tl" x="366.6" y="1236.1"/><use href="#tl" x="377.2" y="1233"/><use href="#tl" x="387.8" y="1230.3"/><use href="#tl" x="398.3" y="1228.1"/><use href="#tl" x="408.9" y="1226.2"/><use href="#tl" x="419.5" y="1224.3"/><use href="#tl" x="430.1" y="1222.6"/><use href="#tl" x="440.6" y="1220.9"/><use href="#tl" x="451.2" y="1219.2"/><use href="#tl" x="461.8" y="1217.6"/><use href="#tl" x="472.4" y="1216"/><use href="#tl" x="483" y="1214.3"/><use href="#tl" x="493.5" y="1212.6"/><use href="#tl" x="504.1" y="1210.9"/><use href="#tl" x="514.7" y="1209"/><use href="#tl" x="525.3" y="1206.6"/><use href="#tl" x="535.8" y="1205"/><use href="#tl" x="546.4" y="1204.5"/><use href="#tl" x="557" y="1204.1"/><use href="#tl" x="567.6" y="1203.7"/><use href="#tl" x="578.2" y="1203.4"/><use href="#tl" x="588.7" y="1203.2"/><use href="#tl" x="599.3" y="1202.9"/><use href="#tl" x="609.9" y="1202.8"/><use href="#tl" x="620.5" y="1202.6"/><use href="#tl" x="631" y="1202.6"/><use href="#tl" x="641.6" y="1202.5"/><use href="#tl" x="652.2" y="1202.5"/><use href="#tl" x="662.8" y="1202.5"/><use href="#tl" x="673.4" y="1202.5"/><use href="#tl" x="683.9" y="1202.5"/><use href="#tl" x="694.5" y="1202.6"/><use href="#tl" x="705.1" y="1202.6"/><use href="#tl" x="715.7" y="1202.7"/><use href="#tl" x="726.2" y="1202.8"/><use href="#tl" x="736.8" y="1203"/><use href="#tl" x="747.4" y="1203.1"/><use href="#tl" x="758" y="1203.3"/><use href="#tl" x="768.6" y="1203.6"/></g>
<path d="M134 1507L144.3 1418.3L155 1345.4L165.6 1294.4L176.3 1265L187 1242.9L197.6 1225.6L208.3 1211.6L219 1199.1L229.6 1188.3L240.3 1178.2L250.9 1168.5L261.6 1160.1L272.3 1152L282.9 1144.3L293.6 1137.5L304.3 1130.7L314.9 1125.2L325.6 1120.1L336.3 1115.4L346.9 1110.9L357.6 1106.5L368.3 1102.2L378.9 1098.1L389.6 1094.1L400.3 1090.1L410.9 1086.2L421.6 1082.1L432.2 1078L442.9 1074L453.6 1070.1L464.2 1066.5L474.9 1063.3L485.6 1060.4L496.2 1057.6L506.9 1055L517.6 1052.5L528.2 1050.2L538.9 1048.1L549.6 1046.1L560.2 1044L570.9 1042.1L581.6 1040.3L592.2 1038.7L602.9 1037.4L613.5 1036.3L624.2 1035.4L634.9 1034.5L645.5 1033.8L656.2 1033.1L666.9 1032.6L677.5 1032.1L688.2 1031.9L698.9 1031.8L709.5 1031.6L720.2 1031.5L730.9 1031.4L741.5 1031.4L752.2 1031.3L762.8 1031.3" fill="none" stroke="#f0f" stroke-width="1.05"/>
<g fill="#f0f"><use href="#tr" x="134" y="1507"/><use href="#tr" x="144.3" y="1418.3"/><use href="#tr" x="155" y="1345.4"/><use href="#tr" x="165.6" y="1294.4"/><use href="#tr" x="176.3" y="1265"/><use href="#tr" x="187" y="1242.9"/><use href="#tr" x="197.6" y="1225.6"/><use href="#tr" x="208.3" y="1211.6"/><use href="#tr" x="219" y="1199.1"/><use href="#tr" x="229.6" y="1188.3"/><use href="#tr" x="240.3" y="1178.2"/><use href="#tr" x="250.9" y="1168.5"/><use href="#tr" x="261.6" y="1160.1"/><use href="#tr" x="272.3" y="1152"/><use href="#tr" x="282.9" y="1144.3"/><use href="#tr" x="293.6" y="1137.5"/><use href="#tr" x="304.3" y="1130.7"/><use href="#tr" x="314.9" y="1125.2"/><use href="#tr" x="325.6" y="1120.1"/><use href="#tr" x="336.3" y="1115.4"/><use href="#tr" x="346.9" y="1110.9"/><use href="#tr" x="357.6" y="1106.5"/><use href="#tr" x="368.3" y="1102.2"/><use href="#tr" x="378.9" y="1098.1"/><use href="#tr" x="389.6" y="1094.1"/><use href="#tr" x="400.3" y="1090.1"/><use href="#tr" x="410.9" y="1086.2"/><use href="#tr" x="421.6" y="1082.1"/><use href="#tr" x="432.2" y="1078"/><use href="#tr" x="442.9" y="1074"/><use href="#tr" x="453.6" y="1070.1"/><use href="#tr" x="464.2" y="1066.5"/><use href="#tr" x="474.9" y="1063.3"/><use href="#tr" x="485.6" y="1060.4"/><use href="#tr" x="496.2" y="1057.6"/><use href="#tr" x="506.9" y="1055"/><use href="#tr" x="517.6" y="1052.5"/><use href="#tr" x="528.2" y="1050.2"/><use href="#tr" x="538.9" y="1048.1"/><use href="#tr" x="549.6" y="1046.1"/><use href="#tr" x="560.2" y="1044"/><use href="#tr" x="570.9" y="1042.1"/><use href="#tr" x="581.6" y="1040.3"/><use href="#tr" x="592.2" y="1038.7"/><use href="#tr" x="602.9" y="1037.4"/><use href="#tr" x="613.5" y="1036.3"/><use href="#tr" x="624.2" y="1035.4"/><use href="#tr" x="634.9" y="1034.5"/><use href="#tr" x="645.5" y="1033.8"/><use href="#tr" x="656.2" y="1033.1"/><use href="#tr" x="666.9" y="1032.6"/><use href="#tr" x="677.5" y="1032.1"/><use href="#tr" x="688.2" y="1031.9"/><use href="#tr" x="698.9" y="1031.8"/><use href="#tr" x="709.5" y="1031.6"/><use href="#tr" x="720.2" y="1031.5"/><use href="#tr" x="730.9" y="1031.4"/><use href="#tr" x="741.5" y="1031.4"/><use href="#tr" x="752.2" y="1031.3"/><use href="#tr" x="762.8" y="1031.3"/></g>
</g>
<g font-size="40" text-anchor="middle">
<text x="134" y="1550.1">0</text>
<text x="292.5" y="1550.1">5</text>
<text x="451" y="1550.1">10</text>
<text x="609.4" y="1550.1">15</text>
<text x="767.9" y="1550.1">20</text>
<text x="926.4" y="1550.1">25</text>
</g>
<g font-size="40" text-anchor="end">
<text x="121.4" y="1519">0</text>
<text x="121.4" y="1401.3">100</text>
<text x="121.4" y="1283.7">200</text>
<text x="121.4" y="1166">300</text>
<text x="121.4" y="1048.4">400</text>
<text x="121.4" y="930.7">500</text>
</g>
<text x="531.1" y="1590.5" font-size="51.3" text-anchor="middle"><tspan font-style="italic">ε</tspan><tspan font-size="30.5" dy="17.2">a</tspan><tspan dy="-17.2"> (%)</tspan></text>
<text transform="translate(41.4 1212.1) rotate(-90)" font-size="51.3" text-anchor="middle"><tspan font-style="italic">q</tspan> (kPa)</text>
<g font-size="25.5">
<path d="M145 940.6H203" stroke="#000" stroke-width="1.05"/><use href="#sq" x="174" y="940.6" fill="#000"/>
<text x="209.6" y="948.9"><tspan font-style="italic">FC</tspan>=0.2%, <tspan font-style="italic">CP</tspan>=25 kPa</text>
<path d="M145 972.5H203" stroke="#f00" stroke-width="1.05"/><use href="#ci" x="174" y="972.5" fill="#f00"/>
<text x="209.6" y="980.8"><tspan font-style="italic">FC</tspan>=0.2%, <tspan font-style="italic">CP</tspan>=50 kPa</text>
<path d="M145 1004.4H203" stroke="#0f0" stroke-width="1.05"/><use href="#tu" x="174" y="1004.4" fill="#0f0"/>
<text x="209.6" y="1012.7"><tspan font-style="italic">FC</tspan>=0.2%, <tspan font-style="italic">CP</tspan>=100 kPa</text>
<path d="M145 1036.3H203" stroke="#00f" stroke-width="1.05"/><use href="#td" x="174" y="1036.3" fill="#00f"/>
<text x="209.6" y="1044.6"><tspan font-style="italic">FC</tspan>=0.6%, <tspan font-style="italic">CP</tspan>=25 kPa</text>
<path d="M145 1068.2H203" stroke="#0ff" stroke-width="1.05"/><use href="#tl" x="174" y="1068.2" fill="#0ff"/>
<text x="209.6" y="1076.5"><tspan font-style="italic">FC</tspan>=0.6%, <tspan font-style="italic">CP</tspan>=50 kPa</text>
<path d="M145 1100.1H203" stroke="#f0f" stroke-width="1.05"/><use href="#tr" x="174" y="1100.1" fill="#f0f"/>
<text x="209.6" y="1108.4"><tspan font-style="italic">FC</tspan>=0.6%, <tspan font-style="italic">CP</tspan>=100 kPa</text>
</g>
<text x="521" y="1690.2" font-size="61" text-anchor="middle" class="cap">c)</text>
<clipPath id="clipd"><rect x="1190.0" y="919.0" width="792.0" height="588.3000000000001"/></clipPath>
<path d="M1190.0 919.0H1982.0V1506.7H1190.0ZM1269.2 1506.7v-7M1269.2 919.0v7M1348.4 1506.7v-13M1348.4 919.0v13M1427.6 1506.7v-7M1427.6 919.0v7M1506.8 1506.7v-13M1506.8 919.0v13M1586 1506.7v-7M1586 919.0v7M1665.2 1506.7v-13M1665.2 919.0v13M1744.4 1506.7v-7M1744.4 919.0v7M1823.6 1506.7v-13M1823.6 919.0v13M1902.8 1506.7v-7M1902.8 919.0v7M1190.0 1457.7h7M1982.0 1457.7h-7M1190.0 1408.8h13M1982.0 1408.8h-13M1190.0 1359.8h7M1982.0 1359.8h-7M1190.0 1310.8h13M1982.0 1310.8h-13M1190.0 1261.8h7M1982.0 1261.8h-7M1190.0 1212.8h13M1982.0 1212.8h-13M1190.0 1163.9h7M1982.0 1163.9h-7M1190.0 1114.9h13M1982.0 1114.9h-13M1190.0 1065.9h7M1982.0 1065.9h-7M1190.0 1017h13M1982.0 1017h-13M1190.0 968h7M1982.0 968h-7" fill="none" stroke="#000" stroke-width="2.6" stroke-linecap="butt" stroke-linejoin="miter"/>
<g clip-path="url(#clipd)">
<path d="M1190 1506.7L1200.5 1477.9L1211 1459.9L1221.6 1452L1232.2 1445.1L1242.8 1440.6L1253.4 1436.9L1264 1433.5L1274.6 1430.4L1285.2 1427.5L1295.8 1424.9L1306.4 1422.3L1317 1419.9L1327.6 1417.6L1338.2 1415.5L1348.8 1413.6L1359.4 1411.8L1370 1410.1L1380.6 1408.4L1391.1 1406.9L1401.7 1405.3L1412.3 1403.8L1422.9 1402.4L1433.5 1401L1444.1 1399.6L1454.7 1398.3L1465.3 1397.1L1475.9 1395.9L1486.5 1394.7L1497.1 1393.6L1507.7 1392.6L1518.3 1391.6L1528.9 1390.7L1539.5 1389.9L1550.1 1389.1L1560.7 1388.4L1571.2 1387.7L1581.8 1387L1592.4 1386.2L1603 1385.5L1613.6 1384.6L1624.2 1383.8L1634.8 1383L1645.4 1382.2L1656 1381.5L1666.6 1380.7L1677.2 1380L1687.8 1379.3L1698.4 1378.6L1709 1378L1719.6 1377.5L1730.2 1376.9L1740.7 1376.4L1751.3 1375.9L1761.9 1375.4L1772.5 1375L1783.1 1374.6L1793.7 1374.2L1804.3 1373.8L1814.9 1373.5L1825.5 1373.2" fill="none" stroke="#000" stroke-width="1.05"/>
<g fill="#000"><use href="#sq" x="1190" y="1506.7"/><use href="#sq" x="1200.5" y="1477.9"/><use href="#sq" x="1211" y="1459.9"/><use href="#sq" x="1221.6" y="1452"/><use href="#sq" x="1232.2" y="1445.1"/><use href="#sq" x="1242.8" y="1440.6"/><use href="#sq" x="1253.4" y="1436.9"/><use href="#sq" x="1264" y="1433.5"/><use href="#sq" x="1274.6" y="1430.4"/><use href="#sq" x="1285.2" y="1427.5"/><use href="#sq" x="1295.8" y="1424.9"/><use href="#sq" x="1306.4" y="1422.3"/><use href="#sq" x="1317" y="1419.9"/><use href="#sq" x="1327.6" y="1417.6"/><use href="#sq" x="1338.2" y="1415.5"/><use href="#sq" x="1348.8" y="1413.6"/><use href="#sq" x="1359.4" y="1411.8"/><use href="#sq" x="1370" y="1410.1"/><use href="#sq" x="1380.6" y="1408.4"/><use href="#sq" x="1391.1" y="1406.9"/><use href="#sq" x="1401.7" y="1405.3"/><use href="#sq" x="1412.3" y="1403.8"/><use href="#sq" x="1422.9" y="1402.4"/><use href="#sq" x="1433.5" y="1401"/><use href="#sq" x="1444.1" y="1399.6"/><use href="#sq" x="1454.7" y="1398.3"/><use href="#sq" x="1465.3" y="1397.1"/><use href="#sq" x="1475.9" y="1395.9"/><use href="#sq" x="1486.5" y="1394.7"/><use href="#sq" x="1497.1" y="1393.6"/><use href="#sq" x="1507.7" y="1392.6"/><use href="#sq" x="1518.3" y="1391.6"/><use href="#sq" x="1528.9" y="1390.7"/><use href="#sq" x="1539.5" y="1389.9"/><use href="#sq" x="1550.1" y="1389.1"/><use href="#sq" x="1560.7" y="1388.4"/><use href="#sq" x="1571.2" y="1387.7"/><use href="#sq" x="1581.8" y="1387"/><use href="#sq" x="1592.4" y="1386.2"/><use href="#sq" x="1603" y="1385.5"/><use href="#sq" x="1613.6" y="1384.6"/><use href="#sq" x="1624.2" y="1383.8"/><use href="#sq" x="1634.8" y="1383"/><use href="#sq" x="1645.4" y="1382.2"/><use href="#sq" x="1656" y="1381.5"/><use href="#sq" x="1666.6" y="1380.7"/><use href="#sq" x="1677.2" y="1380"/><use href="#sq" x="1687.8" y="1379.3"/><use href="#sq" x="1698.4" y="1378.6"/><use href="#sq" x="1709" y="1378"/><use href="#sq" x="1719.6" y="1377.5"/><use href="#sq" x="1730.2" y="1376.9"/><use href="#sq" x="1740.7" y="1376.4"/><use href="#sq" x="1751.3" y="1375.9"/><use href="#sq" x="1761.9" y="1375.4"/><use href="#sq" x="1772.5" y="1375"/><use href="#sq" x="1783.1" y="1374.6"/><use href="#sq" x="1793.7" y="1374.2"/><use href="#sq" x="1804.3" y="1373.8"/><use href="#sq" x="1814.9" y="1373.5"/><use href="#sq" x="1825.5" y="1373.2"/></g>
<path d="M1190 1506.7L1197.9 1445.5L1208.6 1420.1L1219.2 1397.5L1229.8 1379.8L1240.5 1364.1L1251.1 1356.4L1261.8 1348.9L1272.4 1342.8L1283.1 1338.6L1293.7 1335.4L1304.3 1332.6L1315 1330.1L1325.6 1327.9L1336.3 1326L1346.9 1324.5L1357.6 1323.1L1368.2 1321.9L1378.8 1320.9L1389.5 1319.9L1400.1 1319.1L1410.8 1318.4L1421.4 1317.7L1432.1 1317.1L1442.7 1316.5L1453.3 1316.1L1464 1315.8L1474.6 1315.6L1485.3 1315.5L1495.9 1315.3L1506.5 1315.2L1517.2 1315.1L1527.8 1315L1538.5 1314.9L1549.1 1314.8L1559.8 1314.7L1570.4 1314.6L1581 1314.6L1591.7 1314.5L1602.3 1314.4L1613 1314.4L1623.6 1314.3L1634.3 1314.3L1644.9 1314.3L1655.5 1314.2L1666.2 1314.2L1676.8 1314.1L1687.5 1314.1L1698.1 1314L1708.8 1314L1719.4 1313.9L1730 1313.8L1740.7 1313.8L1751.3 1313.7L1762 1313.6L1772.6 1313.5L1783.2 1313.4L1793.9 1313.3L1804.5 1313.2L1815.2 1313.1L1825.8 1313" fill="none" stroke="#f00" stroke-width="1.05"/>
<g fill="#f00"><use href="#ci" x="1190" y="1506.7"/><use href="#ci" x="1197.9" y="1445.5"/><use href="#ci" x="1208.6" y="1420.1"/><use href="#ci" x="1219.2" y="1397.5"/><use href="#ci" x="1229.8" y="1379.8"/><use href="#ci" x="1240.5" y="1364.1"/><use href="#ci" x="1251.1" y="1356.4"/><use href="#ci" x="1261.8" y="1348.9"/><use href="#ci" x="1272.4" y="1342.8"/><use href="#ci" x="1283.1" y="1338.6"/><use href="#ci" x="1293.7" y="1335.4"/><use href="#ci" x="1304.3" y="1332.6"/><use href="#ci" x="1315" y="1330.1"/><use href="#ci" x="1325.6" y="1327.9"/><use href="#ci" x="1336.3" y="1326"/><use href="#ci" x="1346.9" y="1324.5"/><use href="#ci" x="1357.6" y="1323.1"/><use href="#ci" x="1368.2" y="1321.9"/><use href="#ci" x="1378.8" y="1320.9"/><use href="#ci" x="1389.5" y="1319.9"/><use href="#ci" x="1400.1" y="1319.1"/><use href="#ci" x="1410.8" y="1318.4"/><use href="#ci" x="1421.4" y="1317.7"/><use href="#ci" x="1432.1" y="1317.1"/><use href="#ci" x="1442.7" y="1316.5"/><use href="#ci" x="1453.3" y="1316.1"/><use href="#ci" x="1464" y="1315.8"/><use href="#ci" x="1474.6" y="1315.6"/><use href="#ci" x="1485.3" y="1315.5"/><use href="#ci" x="1495.9" y="1315.3"/><use href="#ci" x="1506.5" y="1315.2"/><use href="#ci" x="1517.2" y="1315.1"/><use href="#ci" x="1527.8" y="1315"/><use href="#ci" x="1538.5" y="1314.9"/><use href="#ci" x="1549.1" y="1314.8"/><use href="#ci" x="1559.8" y="1314.7"/><use href="#ci" x="1570.4" y="1314.6"/><use href="#ci" x="1581" y="1314.6"/><use href="#ci" x="1591.7" y="1314.5"/><use href="#ci" x="1602.3" y="1314.4"/><use href="#ci" x="1613" y="1314.4"/><use href="#ci" x="1623.6" y="1314.3"/><use href="#ci" x="1634.3" y="1314.3"/><use href="#ci" x="1644.9" y="1314.3"/><use href="#ci" x="1655.5" y="1314.2"/><use href="#ci" x="1666.2" y="1314.2"/><use href="#ci" x="1676.8" y="1314.1"/><use href="#ci" x="1687.5" y="1314.1"/><use href="#ci" x="1698.1" y="1314"/><use href="#ci" x="1708.8" y="1314"/><use href="#ci" x="1719.4" y="1313.9"/><use href="#ci" x="1730" y="1313.8"/><use href="#ci" x="1740.7" y="1313.8"/><use href="#ci" x="1751.3" y="1313.7"/><use href="#ci" x="1762" y="1313.6"/><use href="#ci" x="1772.6" y="1313.5"/><use href="#ci" x="1783.2" y="1313.4"/><use href="#ci" x="1793.9" y="1313.3"/><use href="#ci" x="1804.5" y="1313.2"/><use href="#ci" x="1815.2" y="1313.1"/><use href="#ci" x="1825.8" y="1313"/></g>
<path d="M1190 1506.7L1199.3 1464.7L1210 1430.1L1220.6 1409.9L1231.3 1394.6L1241.9 1380.7L1252.6 1368.5L1263.2 1357.5L1273.9 1347.5L1284.6 1338.7L1295.2 1330.4L1305.9 1321.7L1316.5 1313.1L1327.2 1305.6L1337.8 1298.7L1348.5 1292L1359.1 1285.5L1369.8 1279.3L1380.5 1273.5L1391.1 1268.3L1401.8 1263.3L1412.4 1258L1423.1 1252.5L1433.7 1246.5L1444.4 1240.8L1455.1 1236.1L1465.7 1231.9L1476.4 1227.9L1487 1223.7L1497.7 1218.4L1508.3 1213.5L1519 1210.1L1529.7 1207L1540.3 1203.7L1551 1200.4L1561.6 1197.3L1572.3 1194.3L1582.9 1191.5L1593.6 1188.9L1604.2 1186.3L1614.9 1183.9L1625.6 1181.4L1636.2 1179L1646.9 1176.6L1657.5 1174.3L1668.2 1172L1678.8 1169.8L1689.5 1168L1700.2 1166.3L1710.8 1164.8L1721.5 1163.5L1732.1 1162.2L1742.8 1160.9L1753.4 1159.7L1764.1 1158.5L1774.8 1157.5L1785.4 1156.5L1796.1 1155.7L1806.7 1154.9L1817.4 1154.2L1828 1153.6" fill="none" stroke="#0f0" stroke-width="1.05"/>
<g fill="#0f0"><use href="#tu" x="1190" y="1506.7"/><use href="#tu" x="1210" y="1430.1"/><use href="#tu" x="1231.3" y="1394.6"/><use href="#tu" x="1252.6" y="1368.5"/><use href="#tu" x="1273.9" y="1347.5"/><use href="#tu" x="1295.2" y="1330.4"/><use href="#tu" x="1316.5" y="1313.1"/><use href="#tu" x="1337.8" y="1298.7"/><use href="#tu" x="1359.1" y="1285.5"/><use href="#tu" x="1380.5" y="1273.5"/><use href="#tu" x="1401.8" y="1263.3"/><use href="#tu" x="1423.1" y="1252.5"/><use href="#tu" x="1444.4" y="1240.8"/><use href="#tu" x="1465.7" y="1231.9"/><use href="#tu" x="1487" y="1223.7"/><use href="#tu" x="1508.3" y="1213.5"/><use href="#tu" x="1529.7" y="1207"/><use href="#tu" x="1551" y="1200.4"/><use href="#tu" x="1572.3" y="1194.3"/><use href="#tu" x="1593.6" y="1188.9"/><use href="#tu" x="1614.9" y="1183.9"/><use href="#tu" x="1636.2" y="1179"/><use href="#tu" x="1657.5" y="1174.3"/><use href="#tu" x="1678.8" y="1169.8"/><use href="#tu" x="1700.2" y="1166.3"/><use href="#tu" x="1721.5" y="1163.5"/><use href="#tu" x="1742.8" y="1160.9"/><use href="#tu" x="1764.1" y="1158.5"/><use href="#tu" x="1785.4" y="1156.5"/><use href="#tu" x="1806.7" y="1154.9"/><use href="#tu" x="1828" y="1153.6"/></g>
<path d="M1190 1506.7L1200.1 1481.6L1210.8 1448L1221.4 1424.3L1232 1406L1242.6 1393.6L1253.2 1389L1263.9 1384.1L1274.5 1380.1L1285.1 1377L1295.7 1374.6L1306.3 1372.7L1317 1370.9L1327.6 1369.4L1338.2 1368.1L1348.8 1366.9L1359.5 1365.9L1370.1 1364.9L1380.7 1363.9L1391.3 1363L1401.9 1362L1412.6 1361.1L1423.2 1360.3L1433.8 1359.5L1444.4 1358.8L1455 1358.2L1465.7 1357.5L1476.3 1356.9L1486.9 1356.3L1497.5 1355.6L1508.1 1354.9L1518.8 1354.1L1529.4 1353.3L1540 1352.4L1550.6 1351.6L1561.2 1350.7L1571.9 1349.9L1582.5 1349.2L1593.1 1348.5L1603.7 1347.9L1614.4 1347.2L1625 1346.6L1635.6 1346L1646.2 1345.5L1656.8 1344.9L1667.5 1344.5L1678.1 1344L1688.7 1343.7L1699.3 1343.3L1709.9 1342.9L1720.6 1342.6L1731.2 1342.2L1741.8 1341.9L1752.4 1341.5L1763 1341.1L1773.7 1340.8L1784.3 1340.4L1794.9 1340L1805.5 1339.7L1816.1 1339.3L1826.8 1339" fill="none" stroke="#00f" stroke-width="1.05"/>
<g fill="#00f"><use href="#td" x="1190" y="1506.7"/><use href="#td" x="1200.1" y="1481.6"/><use href="#td" x="1210.8" y="1448"/><use href="#td" x="1221.4" y="1424.3"/><use href="#td" x="1232" y="1406"/><use href="#td" x="1242.6" y="1393.6"/><use href="#td" x="1253.2" y="1389"/><use href="#td" x="1263.9" y="1384.1"/><use href="#td" x="1274.5" y="1380.1"/><use href="#td" x="1285.1" y="1377"/><use href="#td" x="1295.7" y="1374.6"/><use href="#td" x="1306.3" y="1372.7"/><use href="#td" x="1317" y="1370.9"/><use href="#td" x="1327.6" y="1369.4"/><use href="#td" x="1338.2" y="1368.1"/><use href="#td" x="1348.8" y="1366.9"/><use href="#td" x="1359.5" y="1365.9"/><use href="#td" x="1370.1" y="1364.9"/><use href="#td" x="1380.7" y="1363.9"/><use href="#td" x="1391.3" y="1363"/><use href="#td" x="1401.9" y="1362"/><use href="#td" x="1412.6" y="1361.1"/><use href="#td" x="1423.2" y="1360.3"/><use href="#td" x="1433.8" y="1359.5"/><use href="#td" x="1444.4" y="1358.8"/><use href="#td" x="1455" y="1358.2"/><use href="#td" x="1465.7" y="1357.5"/><use href="#td" x="1476.3" y="1356.9"/><use href="#td" x="1486.9" y="1356.3"/><use href="#td" x="1497.5" y="1355.6"/><use href="#td" x="1508.1" y="1354.9"/><use href="#td" x="1518.8" y="1354.1"/><use href="#td" x="1529.4" y="1353.3"/><use href="#td" x="1540" y="1352.4"/><use href="#td" x="1550.6" y="1351.6"/><use href="#td" x="1561.2" y="1350.7"/><use href="#td" x="1571.9" y="1349.9"/><use href="#td" x="1582.5" y="1349.2"/><use href="#td" x="1593.1" y="1348.5"/><use href="#td" x="1603.7" y="1347.9"/><use href="#td" x="1614.4" y="1347.2"/><use href="#td" x="1625" y="1346.6"/><use href="#td" x="1635.6" y="1346"/><use href="#td" x="1646.2" y="1345.5"/><use href="#td" x="1656.8" y="1344.9"/><use href="#td" x="1667.5" y="1344.5"/><use href="#td" x="1678.1" y="1344"/><use href="#td" x="1688.7" y="1343.7"/><use href="#td" x="1699.3" y="1343.3"/><use href="#td" x="1709.9" y="1342.9"/><use href="#td" x="1720.6" y="1342.6"/><use href="#td" x="1731.2" y="1342.2"/><use href="#td" x="1741.8" y="1341.9"/><use href="#td" x="1752.4" y="1341.5"/><use href="#td" x="1763" y="1341.1"/><use href="#td" x="1773.7" y="1340.8"/><use href="#td" x="1784.3" y="1340.4"/><use href="#td" x="1794.9" y="1340"/><use href="#td" x="1805.5" y="1339.7"/><use href="#td" x="1816.1" y="1339.3"/><use href="#td" x="1826.8" y="1339"/></g>
<path d="M1190 1506.7L1200.5 1473.5L1211.2 1438.2L1222 1410.1L1232.7 1385.8L1243.5 1366.7L1254.2 1352.2L1265 1339.6L1275.7 1330L1286.4 1319.8L1297.2 1311.7L1307.9 1304.5L1318.7 1297.7L1329.4 1291.2L1340.2 1285.2L1350.9 1279.7L1361.7 1274.7L1372.4 1270.1L1383.2 1265.5L1393.9 1260.8L1404.7 1256L1415.4 1251.4L1426.2 1247L1436.9 1243.1L1447.7 1239.8L1458.4 1236.7L1469.2 1233.8L1479.9 1231.2L1490.7 1228.9L1501.4 1226.8L1512.2 1225.2L1522.9 1223.7L1533.7 1222.4L1544.4 1221.3L1555.2 1220.2L1565.9 1219.1L1576.7 1218L1587.4 1216.6L1598.2 1215.4L1608.9 1215.1L1619.7 1214.9L1630.4 1214.8L1641.2 1214.6L1651.9 1214.5L1662.7 1214.4L1673.4 1214.3L1684.2 1214.3L1694.9 1214.2L1705.7 1214.2L1716.4 1214.2L1727.2 1214.3L1737.9 1214.4L1748.7 1214.6L1759.4 1214.9L1770.2 1215.2L1780.9 1215.5L1791.7 1215.9L1802.4 1216.3L1813.2 1216.8L1823.9 1217.3" fill="none" stroke="#0ff" stroke-width="1.05"/>
<g fill="#0ff"><use href="#tl" x="1190" y="1506.7"/><use href="#tl" x="1200.5" y="1473.5"/><use href="#tl" x="1211.2" y="1438.2"/><use href="#tl" x="1222" y="1410.1"/><use href="#tl" x="1232.7" y="1385.8"/><use href="#tl" x="1243.5" y="1366.7"/><use href="#tl" x="1254.2" y="1352.2"/><use href="#tl" x="1265" y="1339.6"/><use href="#tl" x="1275.7" y="1330"/><use href="#tl" x="1286.4" y="1319.8"/><use href="#tl" x="1297.2" y="1311.7"/><use href="#tl" x="1307.9" y="1304.5"/><use href="#tl" x="1318.7" y="1297.7"/><use href="#tl" x="1329.4" y="1291.2"/><use href="#tl" x="1340.2" y="1285.2"/><use href="#tl" x="1350.9" y="1279.7"/><use href="#tl" x="1361.7" y="1274.7"/><use href="#tl" x="1372.4" y="1270.1"/><use href="#tl" x="1383.2" y="1265.5"/><use href="#tl" x="1393.9" y="1260.8"/><use href="#tl" x="1404.7" y="1256"/><use href="#tl" x="1415.4" y="1251.4"/><use href="#tl" x="1426.2" y="1247"/><use href="#tl" x="1436.9" y="1243.1"/><use href="#tl" x="1447.7" y="1239.8"/><use href="#tl" x="1458.4" y="1236.7"/><use href="#tl" x="1469.2" y="1233.8"/><use href="#tl" x="1479.9" y="1231.2"/><use href="#tl" x="1490.7" y="1228.9"/><use href="#tl" x="1501.4" y="1226.8"/><use href="#tl" x="1512.2" y="1225.2"/><use href="#tl" x="1522.9" y="1223.7"/><use href="#tl" x="1533.7" y="1222.4"/><use href="#tl" x="1544.4" y="1221.3"/><use href="#tl" x="1555.2" y="1220.2"/><use href="#tl" x="1565.9" y="1219.1"/><use href="#tl" x="1576.7" y="1218"/><use href="#tl" x="1587.4" y="1216.6"/><use href="#tl" x="1598.2" y="1215.4"/><use href="#tl" x="1608.9" y="1215.1"/><use href="#tl" x="1619.7" y="1214.9"/><use href="#tl" x="1630.4" y="1214.8"/><use href="#tl" x="1641.2" y="1214.6"/><use href="#tl" x="1651.9" y="1214.5"/><use href="#tl" x="1662.7" y="1214.4"/><use href="#tl" x="1673.4" y="1214.3"/><use href="#tl" x="1684.2" y="1214.3"/><use href="#tl" x="1694.9" y="1214.2"/><use href="#tl" x="1705.7" y="1214.2"/><use href="#tl" x="1716.4" y="1214.2"/><use href="#tl" x="1727.2" y="1214.3"/><use href="#tl" x="1737.9" y="1214.4"/><use href="#tl" x="1748.7" y="1214.6"/><use href="#tl" x="1759.4" y="1214.9"/><use href="#tl" x="1770.2" y="1215.2"/><use href="#tl" x="1780.9" y="1215.5"/><use href="#tl" x="1791.7" y="1215.9"/><use href="#tl" x="1802.4" y="1216.3"/><use href="#tl" x="1813.2" y="1216.8"/><use href="#tl" x="1823.9" y="1217.3"/></g>
<path d="M1190 1506.7L1200.1 1439.1L1210.9 1367.2L1221.6 1299.6L1232.4 1264.7L1243.1 1238L1253.9 1217.2L1264.6 1200.4L1275.4 1187.6L1286.1 1174.9L1296.9 1164.1L1307.6 1154.6L1318.4 1145.1L1329.1 1137.2L1339.9 1130.1L1350.6 1123.7L1361.4 1117.9L1372.1 1112.6L1382.9 1107.6L1393.6 1102.8L1404.4 1098.4L1415.1 1094.4L1425.9 1090.7L1436.6 1087.4L1447.4 1084.3L1458.1 1081.4L1468.9 1078.6L1479.6 1076.2L1490.4 1073.9L1501.1 1071.8L1511.9 1070L1522.6 1068.4L1533.4 1067L1544.1 1065.7L1554.9 1064.5L1565.6 1063.2L1576.4 1061.9L1587.1 1060.5L1597.9 1058.9L1608.6 1058.1L1619.4 1057.6L1630.1 1057.2L1640.9 1056.9L1651.6 1056.7L1662.4 1056.6L1673.1 1056.6L1683.9 1056.6L1694.6 1056.6L1705.4 1056.6L1716.1 1056.6L1726.9 1056.6L1737.6 1056.7L1748.4 1056.9L1759.1 1057.2L1769.9 1057.7L1780.6 1058.2L1791.4 1058.8L1802.1 1059.5L1812.9 1060.3L1823.6 1061.1" fill="none" stroke="#f0f" stroke-width="1.05"/>
<g fill="#f0f"><use href="#tr" x="1200.1" y="1439.1"/><use href="#tr" x="1210.9" y="1367.2"/><use href="#tr" x="1221.6" y="1299.6"/><use href="#tr" x="1232.4" y="1264.7"/><use href="#tr" x="1243.1" y="1238"/><use href="#tr" x="1253.9" y="1217.2"/><use href="#tr" x="1264.6" y="1200.4"/><use href="#tr" x="1275.4" y="1187.6"/><use href="#tr" x="1286.1" y="1174.9"/><use href="#tr" x="1296.9" y="1164.1"/><use href="#tr" x="1307.6" y="1154.6"/><use href="#tr" x="1318.4" y="1145.1"/><use href="#tr" x="1329.1" y="1137.2"/><use href="#tr" x="1339.9" y="1130.1"/><use href="#tr" x="1350.6" y="1123.7"/><use href="#tr" x="1361.4" y="1117.9"/><use href="#tr" x="1372.1" y="1112.6"/><use href="#tr" x="1382.9" y="1107.6"/><use href="#tr" x="1393.6" y="1102.8"/><use href="#tr" x="1404.4" y="1098.4"/><use href="#tr" x="1415.1" y="1094.4"/><use href="#tr" x="1425.9" y="1090.7"/><use href="#tr" x="1436.6" y="1087.4"/><use href="#tr" x="1447.4" y="1084.3"/><use href="#tr" x="1458.1" y="1081.4"/><use href="#tr" x="1468.9" y="1078.6"/><use href="#tr" x="1479.6" y="1076.2"/><use href="#tr" x="1490.4" y="1073.9"/><use href="#tr" x="1501.1" y="1071.8"/><use href="#tr" x="1511.9" y="1070"/><use href="#tr" x="1522.6" y="1068.4"/><use href="#tr" x="1533.4" y="1067"/><use href="#tr" x="1544.1" y="1065.7"/><use href="#tr" x="1554.9" y="1064.5"/><use href="#tr" x="1565.6" y="1063.2"/><use href="#tr" x="1576.4" y="1061.9"/><use href="#tr" x="1587.1" y="1060.5"/><use href="#tr" x="1597.9" y="1058.9"/><use href="#tr" x="1608.6" y="1058.1"/><use href="#tr" x="1619.4" y="1057.6"/><use href="#tr" x="1630.1" y="1057.2"/><use href="#tr" x="1640.9" y="1056.9"/><use href="#tr" x="1651.6" y="1056.7"/><use href="#tr" x="1662.4" y="1056.6"/><use href="#tr" x="1673.1" y="1056.6"/><use href="#tr" x="1683.9" y="1056.6"/><use href="#tr" x="1694.6" y="1056.6"/><use href="#tr" x="1705.4" y="1056.6"/><use href="#tr" x="1716.1" y="1056.6"/><use href="#tr" x="1726.9" y="1056.6"/><use href="#tr" x="1737.6" y="1056.7"/><use href="#tr" x="1748.4" y="1056.9"/><use href="#tr" x="1759.1" y="1057.2"/><use href="#tr" x="1769.9" y="1057.7"/><use href="#tr" x="1780.6" y="1058.2"/><use href="#tr" x="1791.4" y="1058.8"/><use href="#tr" x="1802.1" y="1059.5"/><use href="#tr" x="1812.9" y="1060.3"/><use href="#tr" x="1823.6" y="1061.1"/></g>
</g>
<g font-size="40" text-anchor="middle">
<text x="1190" y="1549.8">0</text>
<text x="1348.4" y="1549.8">5</text>
<text x="1506.8" y="1549.8">10</text>
<text x="1665.2" y="1549.8">15</text>
<text x="1823.6" y="1549.8">20</text>
<text x="1982" y="1549.8">25</text>
</g>
<g font-size="40" text-anchor="end">
<text x="1177.4" y="1518.7">0</text>
<text x="1177.4" y="1420.8">100</text>
<text x="1177.4" y="1322.8">200</text>
<text x="1177.4" y="1224.8">300</text>
<text x="1177.4" y="1126.9">400</text>
<text x="1177.4" y="1029">500</text>
<text x="1177.4" y="931">600</text>
</g>
<text x="1586.6" y="1592.7" font-size="51.3" text-anchor="middle"><tspan font-style="italic">ε</tspan><tspan font-size="30.5" dy="17.2">a</tspan><tspan dy="-17.2"> (%)</tspan></text>
<text transform="translate(1098 1212.1) rotate(-90)" font-size="51.3" text-anchor="middle"><tspan font-style="italic">q</tspan> (kPa)</text>
<g font-size="25.5">
<path d="M1213.6 953.2H1271.2" stroke="#000" stroke-width="1.05"/><use href="#sq" x="1242.4" y="953.2" fill="#000"/>
<text x="1277.6" y="961.5"><tspan font-style="italic">FC</tspan>=0.2%, <tspan font-style="italic">CP</tspan>=25 kPa</text>
<path d="M1533.7 953.2H1591.2" stroke="#f00" stroke-width="1.05"/><use href="#ci" x="1562.5" y="953.2" fill="#f00"/>
<text x="1598.3" y="961.5"><tspan font-style="italic">FC</tspan>=0.2%, <tspan font-style="italic">CP</tspan>=50 kPa</text>
<path d="M1213.6 985.2H1271.2" stroke="#0f0" stroke-width="1.05"/><use href="#tu" x="1242.4" y="985.2" fill="#0f0"/>
<text x="1277.6" y="993.5"><tspan font-style="italic">FC</tspan>=0.2%, <tspan font-style="italic">CP</tspan>=100 kPa</text>
<path d="M1540.3 985.2H1598.2" stroke="#00f" stroke-width="1.05"/><use href="#td" x="1569.2" y="985.2" fill="#00f"/>
<text x="1605" y="993.5"><tspan font-style="italic">FC</tspan>=0.6%, <tspan font-style="italic">CP</tspan>=25 kPa</text>
<path d="M1213.6 1017.3H1271.2" stroke="#0ff" stroke-width="1.05"/><use href="#tl" x="1242.4" y="1017.3" fill="#0ff"/>
<text x="1277.6" y="1025.6"><tspan font-style="italic">FC</tspan>=0.6%, <tspan font-style="italic">CP</tspan>=50 kPa</text>
<path d="M1533.7 1017.3H1591.2" stroke="#f0f" stroke-width="1.05"/><use href="#tr" x="1562.5" y="1017.3" fill="#f0f"/>
<text x="1598.3" y="1025.6"><tspan font-style="italic">FC</tspan>=0.6%, <tspan font-style="italic">CP</tspan>=100 kPa</text>
</g>
<text x="1586.5" y="1690.2" font-size="61" text-anchor="middle" class="cap">d)</text>
</svg>
</body></html>
